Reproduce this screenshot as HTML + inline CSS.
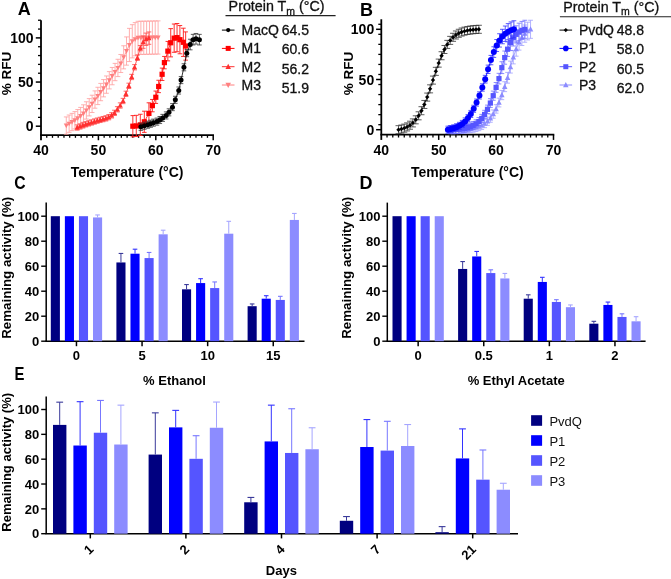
<!DOCTYPE html>
<html><head><meta charset="utf-8"><style>
html,body{margin:0;padding:0;background:#fff;}
svg{display:block;will-change:transform;}
</style></head><body>
<svg width="671" height="579" viewBox="0 0 671 579" style="font-family:'Liberation Sans',sans-serif">
<rect width="671" height="579" fill="#fff"/>
<text x="17.8" y="15.1" font-size="18" font-family="Liberation Sans, sans-serif" font-weight="bold" text-anchor="start" fill="#000" >A</text>
<line x1="41" y1="20.24" x2="41" y2="140.23" stroke="#000" stroke-width="1.8" />
<line x1="38" y1="117.37" x2="41" y2="117.37" stroke="#000" stroke-width="1.3" />
<line x1="38" y1="108.54" x2="41" y2="108.54" stroke="#000" stroke-width="1.3" />
<line x1="38" y1="99.71" x2="41" y2="99.71" stroke="#000" stroke-width="1.3" />
<line x1="38" y1="90.88" x2="41" y2="90.88" stroke="#000" stroke-width="1.3" />
<line x1="38" y1="73.22" x2="41" y2="73.22" stroke="#000" stroke-width="1.3" />
<line x1="38" y1="64.39" x2="41" y2="64.39" stroke="#000" stroke-width="1.3" />
<line x1="38" y1="55.56" x2="41" y2="55.56" stroke="#000" stroke-width="1.3" />
<line x1="38" y1="46.73" x2="41" y2="46.73" stroke="#000" stroke-width="1.3" />
<line x1="38" y1="29.07" x2="41" y2="29.07" stroke="#000" stroke-width="1.3" />
<line x1="38" y1="20.24" x2="41" y2="20.24" stroke="#000" stroke-width="1.3" />
<line x1="35.8" y1="126.2" x2="41" y2="126.2" stroke="#000" stroke-width="1.5" />
<text x="33.6" y="131.2" font-size="14" font-family="Liberation Sans, sans-serif" font-weight="bold" text-anchor="end" fill="#000" >0</text>
<line x1="35.8" y1="82.05" x2="41" y2="82.05" stroke="#000" stroke-width="1.5" />
<text x="33.6" y="87.05" font-size="14" font-family="Liberation Sans, sans-serif" font-weight="bold" text-anchor="end" fill="#000" >50</text>
<line x1="35.8" y1="37.9" x2="41" y2="37.9" stroke="#000" stroke-width="1.5" />
<text x="33.6" y="42.9" font-size="14" font-family="Liberation Sans, sans-serif" font-weight="bold" text-anchor="end" fill="#000" >100</text>
<line x1="40.1" y1="135.03" x2="214" y2="135.03" stroke="#000" stroke-width="1.8" />
<line x1="46.74" y1="135.03" x2="46.74" y2="137.83" stroke="#000" stroke-width="1.3" />
<line x1="52.48" y1="135.03" x2="52.48" y2="137.83" stroke="#000" stroke-width="1.3" />
<line x1="58.22" y1="135.03" x2="58.22" y2="137.83" stroke="#000" stroke-width="1.3" />
<line x1="63.96" y1="135.03" x2="63.96" y2="137.83" stroke="#000" stroke-width="1.3" />
<line x1="69.7" y1="135.03" x2="69.7" y2="137.83" stroke="#000" stroke-width="1.3" />
<line x1="75.44" y1="135.03" x2="75.44" y2="137.83" stroke="#000" stroke-width="1.3" />
<line x1="81.18" y1="135.03" x2="81.18" y2="137.83" stroke="#000" stroke-width="1.3" />
<line x1="86.92" y1="135.03" x2="86.92" y2="137.83" stroke="#000" stroke-width="1.3" />
<line x1="92.66" y1="135.03" x2="92.66" y2="137.83" stroke="#000" stroke-width="1.3" />
<line x1="104.14" y1="135.03" x2="104.14" y2="137.83" stroke="#000" stroke-width="1.3" />
<line x1="109.88" y1="135.03" x2="109.88" y2="137.83" stroke="#000" stroke-width="1.3" />
<line x1="115.62" y1="135.03" x2="115.62" y2="137.83" stroke="#000" stroke-width="1.3" />
<line x1="121.36" y1="135.03" x2="121.36" y2="137.83" stroke="#000" stroke-width="1.3" />
<line x1="127.1" y1="135.03" x2="127.1" y2="137.83" stroke="#000" stroke-width="1.3" />
<line x1="132.84" y1="135.03" x2="132.84" y2="137.83" stroke="#000" stroke-width="1.3" />
<line x1="138.58" y1="135.03" x2="138.58" y2="137.83" stroke="#000" stroke-width="1.3" />
<line x1="144.32" y1="135.03" x2="144.32" y2="137.83" stroke="#000" stroke-width="1.3" />
<line x1="150.06" y1="135.03" x2="150.06" y2="137.83" stroke="#000" stroke-width="1.3" />
<line x1="161.54" y1="135.03" x2="161.54" y2="137.83" stroke="#000" stroke-width="1.3" />
<line x1="167.28" y1="135.03" x2="167.28" y2="137.83" stroke="#000" stroke-width="1.3" />
<line x1="173.02" y1="135.03" x2="173.02" y2="137.83" stroke="#000" stroke-width="1.3" />
<line x1="178.76" y1="135.03" x2="178.76" y2="137.83" stroke="#000" stroke-width="1.3" />
<line x1="184.5" y1="135.03" x2="184.5" y2="137.83" stroke="#000" stroke-width="1.3" />
<line x1="190.24" y1="135.03" x2="190.24" y2="137.83" stroke="#000" stroke-width="1.3" />
<line x1="195.98" y1="135.03" x2="195.98" y2="137.83" stroke="#000" stroke-width="1.3" />
<line x1="201.72" y1="135.03" x2="201.72" y2="137.83" stroke="#000" stroke-width="1.3" />
<line x1="207.46" y1="135.03" x2="207.46" y2="137.83" stroke="#000" stroke-width="1.3" />
<line x1="98.4" y1="135.03" x2="98.4" y2="140.23" stroke="#000" stroke-width="1.5" />
<line x1="155.8" y1="135.03" x2="155.8" y2="140.23" stroke="#000" stroke-width="1.5" />
<line x1="213.2" y1="135.03" x2="213.2" y2="140.23" stroke="#000" stroke-width="1.5" />
<text x="41" y="155" font-size="14" font-family="Liberation Sans, sans-serif" font-weight="bold" text-anchor="middle" fill="#000" >40</text>
<text x="98.4" y="155" font-size="14" font-family="Liberation Sans, sans-serif" font-weight="bold" text-anchor="middle" fill="#000" >50</text>
<text x="155.8" y="155" font-size="14" font-family="Liberation Sans, sans-serif" font-weight="bold" text-anchor="middle" fill="#000" >60</text>
<text x="213.2" y="155" font-size="14" font-family="Liberation Sans, sans-serif" font-weight="bold" text-anchor="middle" fill="#000" >70</text>
<text x="127.1" y="176.9" font-size="14" font-family="Liberation Sans, sans-serif" font-weight="bold" text-anchor="middle" fill="#000" >Temperature (°C)</text>
<text transform="translate(11.3 73.5) rotate(-90)" font-size="13.5" font-family="Liberation Sans, sans-serif" font-weight="bold" text-anchor="middle">% RFU</text>
<line x1="66.26" y1="116.93" x2="66.26" y2="134.24" stroke="#ff9c9c" stroke-width="0.8" />
<line x1="63.86" y1="116.93" x2="68.66" y2="116.93" stroke="#ff9c9c" stroke-width="0.8" />
<line x1="63.86" y1="134.24" x2="68.66" y2="134.24" stroke="#ff9c9c" stroke-width="0.8" />
<line x1="69.13" y1="115.02" x2="69.13" y2="132.32" stroke="#ff9c9c" stroke-width="0.8" />
<line x1="66.73" y1="115.02" x2="71.53" y2="115.02" stroke="#ff9c9c" stroke-width="0.8" />
<line x1="66.73" y1="132.32" x2="71.53" y2="132.32" stroke="#ff9c9c" stroke-width="0.8" />
<line x1="72" y1="113.37" x2="72" y2="130.68" stroke="#ff9c9c" stroke-width="0.8" />
<line x1="69.6" y1="113.37" x2="74.4" y2="113.37" stroke="#ff9c9c" stroke-width="0.8" />
<line x1="69.6" y1="130.68" x2="74.4" y2="130.68" stroke="#ff9c9c" stroke-width="0.8" />
<line x1="74.87" y1="111.61" x2="74.87" y2="128.91" stroke="#ff9c9c" stroke-width="0.8" />
<line x1="72.47" y1="111.61" x2="77.27" y2="111.61" stroke="#ff9c9c" stroke-width="0.8" />
<line x1="72.47" y1="128.91" x2="77.27" y2="128.91" stroke="#ff9c9c" stroke-width="0.8" />
<line x1="77.74" y1="109.56" x2="77.74" y2="126.87" stroke="#ff9c9c" stroke-width="0.8" />
<line x1="75.34" y1="109.56" x2="80.14" y2="109.56" stroke="#ff9c9c" stroke-width="0.8" />
<line x1="75.34" y1="126.87" x2="80.14" y2="126.87" stroke="#ff9c9c" stroke-width="0.8" />
<line x1="80.61" y1="107.4" x2="80.61" y2="124.71" stroke="#ff9c9c" stroke-width="0.8" />
<line x1="78.21" y1="107.4" x2="83.01" y2="107.4" stroke="#ff9c9c" stroke-width="0.8" />
<line x1="78.21" y1="124.71" x2="83.01" y2="124.71" stroke="#ff9c9c" stroke-width="0.8" />
<line x1="83.48" y1="104.82" x2="83.48" y2="122.13" stroke="#ff9c9c" stroke-width="0.8" />
<line x1="81.08" y1="104.82" x2="85.88" y2="104.82" stroke="#ff9c9c" stroke-width="0.8" />
<line x1="81.08" y1="122.13" x2="85.88" y2="122.13" stroke="#ff9c9c" stroke-width="0.8" />
<line x1="86.35" y1="101.77" x2="86.35" y2="119.08" stroke="#ff9c9c" stroke-width="0.8" />
<line x1="83.95" y1="101.77" x2="88.75" y2="101.77" stroke="#ff9c9c" stroke-width="0.8" />
<line x1="83.95" y1="119.08" x2="88.75" y2="119.08" stroke="#ff9c9c" stroke-width="0.8" />
<line x1="89.22" y1="98.61" x2="89.22" y2="115.92" stroke="#ff9c9c" stroke-width="0.8" />
<line x1="86.82" y1="98.61" x2="91.62" y2="98.61" stroke="#ff9c9c" stroke-width="0.8" />
<line x1="86.82" y1="115.92" x2="91.62" y2="115.92" stroke="#ff9c9c" stroke-width="0.8" />
<line x1="92.09" y1="95.22" x2="92.09" y2="112.53" stroke="#ff9c9c" stroke-width="0.8" />
<line x1="89.69" y1="95.22" x2="94.49" y2="95.22" stroke="#ff9c9c" stroke-width="0.8" />
<line x1="89.69" y1="112.53" x2="94.49" y2="112.53" stroke="#ff9c9c" stroke-width="0.8" />
<line x1="94.96" y1="90.88" x2="94.96" y2="108.19" stroke="#ff9c9c" stroke-width="0.8" />
<line x1="92.56" y1="90.88" x2="97.36" y2="90.88" stroke="#ff9c9c" stroke-width="0.8" />
<line x1="92.56" y1="108.19" x2="97.36" y2="108.19" stroke="#ff9c9c" stroke-width="0.8" />
<line x1="97.83" y1="87.28" x2="97.83" y2="104.59" stroke="#ff9c9c" stroke-width="0.8" />
<line x1="95.43" y1="87.28" x2="100.23" y2="87.28" stroke="#ff9c9c" stroke-width="0.8" />
<line x1="95.43" y1="104.59" x2="100.23" y2="104.59" stroke="#ff9c9c" stroke-width="0.8" />
<line x1="100.7" y1="83.42" x2="100.7" y2="100.73" stroke="#ff9c9c" stroke-width="0.8" />
<line x1="98.3" y1="83.42" x2="103.1" y2="83.42" stroke="#ff9c9c" stroke-width="0.8" />
<line x1="98.3" y1="100.73" x2="103.1" y2="100.73" stroke="#ff9c9c" stroke-width="0.8" />
<line x1="103.57" y1="79.55" x2="103.57" y2="96.86" stroke="#ff9c9c" stroke-width="0.8" />
<line x1="101.17" y1="79.55" x2="105.97" y2="79.55" stroke="#ff9c9c" stroke-width="0.8" />
<line x1="101.17" y1="96.86" x2="105.97" y2="96.86" stroke="#ff9c9c" stroke-width="0.8" />
<line x1="106.44" y1="75.96" x2="106.44" y2="93.26" stroke="#ff9c9c" stroke-width="0.8" />
<line x1="104.04" y1="75.96" x2="108.84" y2="75.96" stroke="#ff9c9c" stroke-width="0.8" />
<line x1="104.04" y1="93.26" x2="108.84" y2="93.26" stroke="#ff9c9c" stroke-width="0.8" />
<line x1="109.31" y1="71.62" x2="109.31" y2="88.92" stroke="#ff9c9c" stroke-width="0.8" />
<line x1="106.91" y1="71.62" x2="111.71" y2="71.62" stroke="#ff9c9c" stroke-width="0.8" />
<line x1="106.91" y1="88.92" x2="111.71" y2="88.92" stroke="#ff9c9c" stroke-width="0.8" />
<line x1="112.18" y1="67.47" x2="112.18" y2="84.77" stroke="#ff9c9c" stroke-width="0.8" />
<line x1="109.78" y1="67.47" x2="114.58" y2="67.47" stroke="#ff9c9c" stroke-width="0.8" />
<line x1="109.78" y1="84.77" x2="114.58" y2="84.77" stroke="#ff9c9c" stroke-width="0.8" />
<line x1="115.05" y1="63.39" x2="115.05" y2="80.7" stroke="#ff9c9c" stroke-width="0.8" />
<line x1="112.65" y1="63.39" x2="117.45" y2="63.39" stroke="#ff9c9c" stroke-width="0.8" />
<line x1="112.65" y1="80.7" x2="117.45" y2="80.7" stroke="#ff9c9c" stroke-width="0.8" />
<line x1="117.92" y1="59.27" x2="117.92" y2="76.58" stroke="#ff9c9c" stroke-width="0.8" />
<line x1="115.52" y1="59.27" x2="120.32" y2="59.27" stroke="#ff9c9c" stroke-width="0.8" />
<line x1="115.52" y1="76.58" x2="120.32" y2="76.58" stroke="#ff9c9c" stroke-width="0.8" />
<line x1="120.79" y1="54.49" x2="120.79" y2="72.52" stroke="#ff9c9c" stroke-width="0.8" />
<line x1="118.39" y1="54.49" x2="123.19" y2="54.49" stroke="#ff9c9c" stroke-width="0.8" />
<line x1="118.39" y1="72.52" x2="123.19" y2="72.52" stroke="#ff9c9c" stroke-width="0.8" />
<line x1="123.66" y1="45.78" x2="123.66" y2="68.87" stroke="#ff9c9c" stroke-width="0.8" />
<line x1="121.26" y1="45.78" x2="126.06" y2="45.78" stroke="#ff9c9c" stroke-width="0.8" />
<line x1="121.26" y1="68.87" x2="126.06" y2="68.87" stroke="#ff9c9c" stroke-width="0.8" />
<line x1="126.53" y1="36.92" x2="126.53" y2="65.15" stroke="#ff9c9c" stroke-width="0.8" />
<line x1="124.13" y1="36.92" x2="128.93" y2="36.92" stroke="#ff9c9c" stroke-width="0.8" />
<line x1="124.13" y1="65.15" x2="128.93" y2="65.15" stroke="#ff9c9c" stroke-width="0.8" />
<line x1="129.4" y1="28.36" x2="129.4" y2="61.56" stroke="#ff9c9c" stroke-width="0.8" />
<line x1="127" y1="28.36" x2="131.8" y2="28.36" stroke="#ff9c9c" stroke-width="0.8" />
<line x1="127" y1="61.56" x2="131.8" y2="61.56" stroke="#ff9c9c" stroke-width="0.8" />
<line x1="132.27" y1="24.68" x2="132.27" y2="57.89" stroke="#ff9c9c" stroke-width="0.8" />
<line x1="129.87" y1="24.68" x2="134.67" y2="24.68" stroke="#ff9c9c" stroke-width="0.8" />
<line x1="129.87" y1="57.89" x2="134.67" y2="57.89" stroke="#ff9c9c" stroke-width="0.8" />
<line x1="135.14" y1="22.62" x2="135.14" y2="55.82" stroke="#ff9c9c" stroke-width="0.8" />
<line x1="132.74" y1="22.62" x2="137.54" y2="22.62" stroke="#ff9c9c" stroke-width="0.8" />
<line x1="132.74" y1="55.82" x2="137.54" y2="55.82" stroke="#ff9c9c" stroke-width="0.8" />
<line x1="138.01" y1="21.29" x2="138.01" y2="54.49" stroke="#ff9c9c" stroke-width="0.8" />
<line x1="135.61" y1="21.29" x2="140.41" y2="21.29" stroke="#ff9c9c" stroke-width="0.8" />
<line x1="135.61" y1="54.49" x2="140.41" y2="54.49" stroke="#ff9c9c" stroke-width="0.8" />
<line x1="140.88" y1="21.23" x2="140.88" y2="54.43" stroke="#ff9c9c" stroke-width="0.8" />
<line x1="138.48" y1="21.23" x2="143.28" y2="21.23" stroke="#ff9c9c" stroke-width="0.8" />
<line x1="138.48" y1="54.43" x2="143.28" y2="54.43" stroke="#ff9c9c" stroke-width="0.8" />
<line x1="143.75" y1="21.18" x2="143.75" y2="54.38" stroke="#ff9c9c" stroke-width="0.8" />
<line x1="141.35" y1="21.18" x2="146.15" y2="21.18" stroke="#ff9c9c" stroke-width="0.8" />
<line x1="141.35" y1="54.38" x2="146.15" y2="54.38" stroke="#ff9c9c" stroke-width="0.8" />
<line x1="146.62" y1="21.12" x2="146.62" y2="54.32" stroke="#ff9c9c" stroke-width="0.8" />
<line x1="144.22" y1="21.12" x2="149.02" y2="21.12" stroke="#ff9c9c" stroke-width="0.8" />
<line x1="144.22" y1="54.32" x2="149.02" y2="54.32" stroke="#ff9c9c" stroke-width="0.8" />
<line x1="149.49" y1="21.06" x2="149.49" y2="54.26" stroke="#ff9c9c" stroke-width="0.8" />
<line x1="147.09" y1="21.06" x2="151.89" y2="21.06" stroke="#ff9c9c" stroke-width="0.8" />
<line x1="147.09" y1="54.26" x2="151.89" y2="54.26" stroke="#ff9c9c" stroke-width="0.8" />
<line x1="152.36" y1="21.01" x2="152.36" y2="54.21" stroke="#ff9c9c" stroke-width="0.8" />
<line x1="149.96" y1="21.01" x2="154.76" y2="21.01" stroke="#ff9c9c" stroke-width="0.8" />
<line x1="149.96" y1="54.21" x2="154.76" y2="54.21" stroke="#ff9c9c" stroke-width="0.8" />
<line x1="155.23" y1="20.95" x2="155.23" y2="54.15" stroke="#ff9c9c" stroke-width="0.8" />
<line x1="152.83" y1="20.95" x2="157.63" y2="20.95" stroke="#ff9c9c" stroke-width="0.8" />
<line x1="152.83" y1="54.15" x2="157.63" y2="54.15" stroke="#ff9c9c" stroke-width="0.8" />
<line x1="158.1" y1="20.89" x2="158.1" y2="54.09" stroke="#ff9c9c" stroke-width="0.8" />
<line x1="155.7" y1="20.89" x2="160.5" y2="20.89" stroke="#ff9c9c" stroke-width="0.8" />
<line x1="155.7" y1="54.09" x2="160.5" y2="54.09" stroke="#ff9c9c" stroke-width="0.8" />
<path d="M66.26 125.58 L69.13 123.67 L72 122.02 L74.87 120.26 L77.74 118.21 L80.61 116.06 L83.48 113.47 L86.35 110.42 L89.22 107.27 L92.09 103.87 L94.96 99.53 L97.83 95.94 L100.7 92.07 L103.57 88.21 L106.44 84.61 L109.31 80.27 L112.18 76.12 L115.05 72.04 L117.92 67.92 L120.79 63.51 L123.66 57.33 L126.53 51.03 L129.4 44.96 L132.27 41.28 L135.14 39.22 L138.01 37.89 L140.88 37.83 L143.75 37.78 L146.62 37.72 L149.49 37.66 L152.36 37.61 L155.23 37.55 L158.1 37.49" fill="none" stroke="#ff8080" stroke-width="0.8"/>
<path d="M66.26 128.28L68.76 123.56L63.76 123.56Z" fill="#ff8080"/>
<path d="M69.13 126.37L71.63 121.64L66.63 121.64Z" fill="#ff8080"/>
<path d="M72 124.72L74.5 120L69.5 120Z" fill="#ff8080"/>
<path d="M74.87 122.96L77.37 118.23L72.37 118.23Z" fill="#ff8080"/>
<path d="M77.74 120.91L80.24 116.19L75.24 116.19Z" fill="#ff8080"/>
<path d="M80.61 118.76L83.11 114.03L78.11 114.03Z" fill="#ff8080"/>
<path d="M83.48 116.17L85.98 111.45L80.98 111.45Z" fill="#ff8080"/>
<path d="M86.35 113.12L88.85 108.4L83.85 108.4Z" fill="#ff8080"/>
<path d="M89.22 109.97L91.72 105.24L86.72 105.24Z" fill="#ff8080"/>
<path d="M92.09 106.57L94.59 101.85L89.59 101.85Z" fill="#ff8080"/>
<path d="M94.96 102.23L97.46 97.51L92.46 97.51Z" fill="#ff8080"/>
<path d="M97.83 98.64L100.33 93.91L95.33 93.91Z" fill="#ff8080"/>
<path d="M100.7 94.77L103.2 90.05L98.2 90.05Z" fill="#ff8080"/>
<path d="M103.57 90.91L106.07 86.18L101.07 86.18Z" fill="#ff8080"/>
<path d="M106.44 87.31L108.94 82.59L103.94 82.59Z" fill="#ff8080"/>
<path d="M109.31 82.97L111.81 78.24L106.81 78.24Z" fill="#ff8080"/>
<path d="M112.18 78.82L114.68 74.1L109.68 74.1Z" fill="#ff8080"/>
<path d="M115.05 74.74L117.55 70.02L112.55 70.02Z" fill="#ff8080"/>
<path d="M117.92 70.62L120.42 65.9L115.42 65.9Z" fill="#ff8080"/>
<path d="M120.79 66.21L123.29 61.48L118.29 61.48Z" fill="#ff8080"/>
<path d="M123.66 60.03L126.16 55.3L121.16 55.3Z" fill="#ff8080"/>
<path d="M126.53 53.73L129.03 49.01L124.03 49.01Z" fill="#ff8080"/>
<path d="M129.4 47.66L131.9 42.94L126.9 42.94Z" fill="#ff8080"/>
<path d="M132.27 43.98L134.77 39.26L129.77 39.26Z" fill="#ff8080"/>
<path d="M135.14 41.92L137.64 37.2L132.64 37.2Z" fill="#ff8080"/>
<path d="M138.01 40.59L140.51 35.86L135.51 35.86Z" fill="#ff8080"/>
<path d="M140.88 40.53L143.38 35.81L138.38 35.81Z" fill="#ff8080"/>
<path d="M143.75 40.48L146.25 35.75L141.25 35.75Z" fill="#ff8080"/>
<path d="M146.62 40.42L149.12 35.69L144.12 35.69Z" fill="#ff8080"/>
<path d="M149.49 40.36L151.99 35.64L146.99 35.64Z" fill="#ff8080"/>
<path d="M152.36 40.31L154.86 35.58L149.86 35.58Z" fill="#ff8080"/>
<path d="M155.23 40.25L157.73 35.52L152.73 35.52Z" fill="#ff8080"/>
<path d="M158.1 40.19L160.6 35.47L155.6 35.47Z" fill="#ff8080"/>
<line x1="77.16" y1="124.88" x2="77.16" y2="130.17" stroke="#ff4848" stroke-width="0.8" />
<line x1="74.76" y1="124.88" x2="79.56" y2="124.88" stroke="#ff4848" stroke-width="0.8" />
<line x1="74.76" y1="130.17" x2="79.56" y2="130.17" stroke="#ff4848" stroke-width="0.8" />
<line x1="80.03" y1="123.8" x2="80.03" y2="129.1" stroke="#ff4848" stroke-width="0.8" />
<line x1="77.63" y1="123.8" x2="82.43" y2="123.8" stroke="#ff4848" stroke-width="0.8" />
<line x1="77.63" y1="129.1" x2="82.43" y2="129.1" stroke="#ff4848" stroke-width="0.8" />
<line x1="82.9" y1="122.72" x2="82.9" y2="128.02" stroke="#ff4848" stroke-width="0.8" />
<line x1="80.5" y1="122.72" x2="85.3" y2="122.72" stroke="#ff4848" stroke-width="0.8" />
<line x1="80.5" y1="128.02" x2="85.3" y2="128.02" stroke="#ff4848" stroke-width="0.8" />
<line x1="85.77" y1="121.65" x2="85.77" y2="126.95" stroke="#ff4848" stroke-width="0.8" />
<line x1="83.37" y1="121.65" x2="88.17" y2="121.65" stroke="#ff4848" stroke-width="0.8" />
<line x1="83.37" y1="126.95" x2="88.17" y2="126.95" stroke="#ff4848" stroke-width="0.8" />
<line x1="88.64" y1="120.71" x2="88.64" y2="126" stroke="#ff4848" stroke-width="0.8" />
<line x1="86.24" y1="120.71" x2="91.04" y2="120.71" stroke="#ff4848" stroke-width="0.8" />
<line x1="86.24" y1="126" x2="91.04" y2="126" stroke="#ff4848" stroke-width="0.8" />
<line x1="91.51" y1="119.8" x2="91.51" y2="125.1" stroke="#ff4848" stroke-width="0.8" />
<line x1="89.11" y1="119.8" x2="93.91" y2="119.8" stroke="#ff4848" stroke-width="0.8" />
<line x1="89.11" y1="125.1" x2="93.91" y2="125.1" stroke="#ff4848" stroke-width="0.8" />
<line x1="94.38" y1="118.89" x2="94.38" y2="124.19" stroke="#ff4848" stroke-width="0.8" />
<line x1="91.98" y1="118.89" x2="96.78" y2="118.89" stroke="#ff4848" stroke-width="0.8" />
<line x1="91.98" y1="124.19" x2="96.78" y2="124.19" stroke="#ff4848" stroke-width="0.8" />
<line x1="97.25" y1="118.01" x2="97.25" y2="123.31" stroke="#ff4848" stroke-width="0.8" />
<line x1="94.85" y1="118.01" x2="99.65" y2="118.01" stroke="#ff4848" stroke-width="0.8" />
<line x1="94.85" y1="123.31" x2="99.65" y2="123.31" stroke="#ff4848" stroke-width="0.8" />
<line x1="100.12" y1="117.24" x2="100.12" y2="122.54" stroke="#ff4848" stroke-width="0.8" />
<line x1="97.72" y1="117.24" x2="102.52" y2="117.24" stroke="#ff4848" stroke-width="0.8" />
<line x1="97.72" y1="122.54" x2="102.52" y2="122.54" stroke="#ff4848" stroke-width="0.8" />
<line x1="102.99" y1="116.48" x2="102.99" y2="121.78" stroke="#ff4848" stroke-width="0.8" />
<line x1="100.59" y1="116.48" x2="105.39" y2="116.48" stroke="#ff4848" stroke-width="0.8" />
<line x1="100.59" y1="121.78" x2="105.39" y2="121.78" stroke="#ff4848" stroke-width="0.8" />
<line x1="105.86" y1="115.71" x2="105.86" y2="121.01" stroke="#ff4848" stroke-width="0.8" />
<line x1="103.46" y1="115.71" x2="108.26" y2="115.71" stroke="#ff4848" stroke-width="0.8" />
<line x1="103.46" y1="121.01" x2="108.26" y2="121.01" stroke="#ff4848" stroke-width="0.8" />
<line x1="108.73" y1="114.52" x2="108.73" y2="119.82" stroke="#ff4848" stroke-width="0.8" />
<line x1="106.33" y1="114.52" x2="111.13" y2="114.52" stroke="#ff4848" stroke-width="0.8" />
<line x1="106.33" y1="119.82" x2="111.13" y2="119.82" stroke="#ff4848" stroke-width="0.8" />
<line x1="111.6" y1="112.69" x2="111.6" y2="117.99" stroke="#ff4848" stroke-width="0.8" />
<line x1="109.2" y1="112.69" x2="114" y2="112.69" stroke="#ff4848" stroke-width="0.8" />
<line x1="109.2" y1="117.99" x2="114" y2="117.99" stroke="#ff4848" stroke-width="0.8" />
<line x1="114.47" y1="110.23" x2="114.47" y2="115.53" stroke="#ff4848" stroke-width="0.8" />
<line x1="112.07" y1="110.23" x2="116.87" y2="110.23" stroke="#ff4848" stroke-width="0.8" />
<line x1="112.07" y1="115.53" x2="116.87" y2="115.53" stroke="#ff4848" stroke-width="0.8" />
<line x1="117.34" y1="106.65" x2="117.34" y2="111.95" stroke="#ff4848" stroke-width="0.8" />
<line x1="114.94" y1="106.65" x2="119.74" y2="106.65" stroke="#ff4848" stroke-width="0.8" />
<line x1="114.94" y1="111.95" x2="119.74" y2="111.95" stroke="#ff4848" stroke-width="0.8" />
<line x1="120.21" y1="102.85" x2="120.21" y2="108.15" stroke="#ff4848" stroke-width="0.8" />
<line x1="117.81" y1="102.85" x2="122.61" y2="102.85" stroke="#ff4848" stroke-width="0.8" />
<line x1="117.81" y1="108.15" x2="122.61" y2="108.15" stroke="#ff4848" stroke-width="0.8" />
<line x1="123.08" y1="98.35" x2="123.08" y2="103.65" stroke="#ff4848" stroke-width="0.8" />
<line x1="120.68" y1="98.35" x2="125.48" y2="98.35" stroke="#ff4848" stroke-width="0.8" />
<line x1="120.68" y1="103.65" x2="125.48" y2="103.65" stroke="#ff4848" stroke-width="0.8" />
<line x1="125.95" y1="91.17" x2="125.95" y2="96.46" stroke="#ff4848" stroke-width="0.8" />
<line x1="123.55" y1="91.17" x2="128.35" y2="91.17" stroke="#ff4848" stroke-width="0.8" />
<line x1="123.55" y1="96.46" x2="128.35" y2="96.46" stroke="#ff4848" stroke-width="0.8" />
<line x1="128.82" y1="83.18" x2="128.82" y2="88.48" stroke="#ff4848" stroke-width="0.8" />
<line x1="126.42" y1="83.18" x2="131.22" y2="83.18" stroke="#ff4848" stroke-width="0.8" />
<line x1="126.42" y1="88.48" x2="131.22" y2="88.48" stroke="#ff4848" stroke-width="0.8" />
<line x1="131.69" y1="74.33" x2="131.69" y2="79.63" stroke="#ff4848" stroke-width="0.8" />
<line x1="129.29" y1="74.33" x2="134.09" y2="74.33" stroke="#ff4848" stroke-width="0.8" />
<line x1="129.29" y1="79.63" x2="134.09" y2="79.63" stroke="#ff4848" stroke-width="0.8" />
<line x1="134.56" y1="64.6" x2="134.56" y2="69.9" stroke="#ff4848" stroke-width="0.8" />
<line x1="132.16" y1="64.6" x2="136.96" y2="64.6" stroke="#ff4848" stroke-width="0.8" />
<line x1="132.16" y1="69.9" x2="136.96" y2="69.9" stroke="#ff4848" stroke-width="0.8" />
<line x1="137.43" y1="55.14" x2="137.43" y2="60.43" stroke="#ff4848" stroke-width="0.8" />
<line x1="135.03" y1="55.14" x2="139.83" y2="55.14" stroke="#ff4848" stroke-width="0.8" />
<line x1="135.03" y1="60.43" x2="139.83" y2="60.43" stroke="#ff4848" stroke-width="0.8" />
<line x1="140.3" y1="45.49" x2="140.3" y2="50.79" stroke="#ff4848" stroke-width="0.8" />
<line x1="137.9" y1="45.49" x2="142.7" y2="45.49" stroke="#ff4848" stroke-width="0.8" />
<line x1="137.9" y1="50.79" x2="142.7" y2="50.79" stroke="#ff4848" stroke-width="0.8" />
<line x1="143.17" y1="35.96" x2="143.17" y2="48.32" stroke="#ff4848" stroke-width="0.8" />
<line x1="140.77" y1="35.96" x2="145.57" y2="35.96" stroke="#ff4848" stroke-width="0.8" />
<line x1="140.77" y1="48.32" x2="145.57" y2="48.32" stroke="#ff4848" stroke-width="0.8" />
<line x1="146.04" y1="33.08" x2="146.04" y2="45.44" stroke="#ff4848" stroke-width="0.8" />
<line x1="143.64" y1="33.08" x2="148.44" y2="33.08" stroke="#ff4848" stroke-width="0.8" />
<line x1="143.64" y1="45.44" x2="148.44" y2="45.44" stroke="#ff4848" stroke-width="0.8" />
<line x1="148.91" y1="31.94" x2="148.91" y2="44.3" stroke="#ff4848" stroke-width="0.8" />
<line x1="146.51" y1="31.94" x2="151.31" y2="31.94" stroke="#ff4848" stroke-width="0.8" />
<line x1="146.51" y1="44.3" x2="151.31" y2="44.3" stroke="#ff4848" stroke-width="0.8" />
<path d="M77.16 127.52 L80.03 126.45 L82.9 125.37 L85.77 124.3 L88.64 123.35 L91.51 122.45 L94.38 121.54 L97.25 120.66 L100.12 119.89 L102.99 119.13 L105.86 118.36 L108.73 117.17 L111.6 115.34 L114.47 112.88 L117.34 109.3 L120.21 105.5 L123.08 101 L125.95 93.82 L128.82 85.83 L131.69 76.98 L134.56 67.25 L137.43 57.79 L140.3 48.14 L143.17 42.14 L146.04 39.26 L148.91 38.12" fill="none" stroke="#ff3030" stroke-width="0.8"/>
<path d="M77.16 124.72L79.76 129.63L74.56 129.63Z" fill="#ff3030"/>
<path d="M80.03 123.64L82.63 128.55L77.43 128.55Z" fill="#ff3030"/>
<path d="M82.9 122.56L85.5 127.48L80.3 127.48Z" fill="#ff3030"/>
<path d="M85.77 121.49L88.37 126.4L83.17 126.4Z" fill="#ff3030"/>
<path d="M88.64 120.55L91.24 125.46L86.04 125.46Z" fill="#ff3030"/>
<path d="M91.51 119.64L94.11 124.55L88.91 124.55Z" fill="#ff3030"/>
<path d="M94.38 118.73L96.98 123.65L91.78 123.65Z" fill="#ff3030"/>
<path d="M97.25 117.85L99.85 122.77L94.65 122.77Z" fill="#ff3030"/>
<path d="M100.12 117.09L102.72 122L97.52 122Z" fill="#ff3030"/>
<path d="M102.99 116.32L105.59 121.23L100.39 121.23Z" fill="#ff3030"/>
<path d="M105.86 115.55L108.46 120.47L103.26 120.47Z" fill="#ff3030"/>
<path d="M108.73 114.36L111.33 119.27L106.13 119.27Z" fill="#ff3030"/>
<path d="M111.6 112.53L114.2 117.45L109 117.45Z" fill="#ff3030"/>
<path d="M114.47 110.07L117.07 114.99L111.87 114.99Z" fill="#ff3030"/>
<path d="M117.34 106.49L119.94 111.41L114.74 111.41Z" fill="#ff3030"/>
<path d="M120.21 102.69L122.81 107.61L117.61 107.61Z" fill="#ff3030"/>
<path d="M123.08 98.19L125.68 103.11L120.48 103.11Z" fill="#ff3030"/>
<path d="M125.95 91.01L128.55 95.92L123.35 95.92Z" fill="#ff3030"/>
<path d="M128.82 83.02L131.42 87.94L126.22 87.94Z" fill="#ff3030"/>
<path d="M131.69 74.17L134.29 79.09L129.09 79.09Z" fill="#ff3030"/>
<path d="M134.56 64.44L137.16 69.36L131.96 69.36Z" fill="#ff3030"/>
<path d="M137.43 54.98L140.03 59.89L134.83 59.89Z" fill="#ff3030"/>
<path d="M140.3 45.33L142.9 50.25L137.7 50.25Z" fill="#ff3030"/>
<path d="M143.17 39.33L145.77 44.24L140.57 44.24Z" fill="#ff3030"/>
<path d="M146.04 36.45L148.64 41.37L143.44 41.37Z" fill="#ff3030"/>
<path d="M148.91 35.31L151.51 40.23L146.31 40.23Z" fill="#ff3030"/>
<line x1="132.84" y1="115.6" x2="132.84" y2="136.8" stroke="#ff1a1a" stroke-width="0.9" />
<line x1="130.54" y1="115.6" x2="135.14" y2="115.6" stroke="#ff1a1a" stroke-width="0.9" />
<line x1="130.54" y1="136.8" x2="135.14" y2="136.8" stroke="#ff1a1a" stroke-width="0.9" />
<line x1="136.28" y1="115.34" x2="136.28" y2="136.53" stroke="#ff1a1a" stroke-width="0.9" />
<line x1="133.98" y1="115.34" x2="138.58" y2="115.34" stroke="#ff1a1a" stroke-width="0.9" />
<line x1="133.98" y1="136.53" x2="138.58" y2="136.53" stroke="#ff1a1a" stroke-width="0.9" />
<line x1="140.3" y1="114.28" x2="140.3" y2="135.47" stroke="#ff1a1a" stroke-width="0.9" />
<line x1="138" y1="114.28" x2="142.6" y2="114.28" stroke="#ff1a1a" stroke-width="0.9" />
<line x1="138" y1="135.47" x2="142.6" y2="135.47" stroke="#ff1a1a" stroke-width="0.9" />
<line x1="144.32" y1="111.19" x2="144.32" y2="132.38" stroke="#ff1a1a" stroke-width="0.9" />
<line x1="142.02" y1="111.19" x2="146.62" y2="111.19" stroke="#ff1a1a" stroke-width="0.9" />
<line x1="142.02" y1="132.38" x2="146.62" y2="132.38" stroke="#ff1a1a" stroke-width="0.9" />
<line x1="148.91" y1="102.8" x2="148.91" y2="123.99" stroke="#ff1a1a" stroke-width="0.9" />
<line x1="146.61" y1="102.8" x2="151.21" y2="102.8" stroke="#ff1a1a" stroke-width="0.9" />
<line x1="146.61" y1="123.99" x2="151.21" y2="123.99" stroke="#ff1a1a" stroke-width="0.9" />
<line x1="152.36" y1="99.45" x2="152.36" y2="111.81" stroke="#ff1a1a" stroke-width="0.9" />
<line x1="150.06" y1="99.45" x2="154.66" y2="99.45" stroke="#ff1a1a" stroke-width="0.9" />
<line x1="150.06" y1="111.81" x2="154.66" y2="111.81" stroke="#ff1a1a" stroke-width="0.9" />
<line x1="155.8" y1="91.06" x2="155.8" y2="103.42" stroke="#ff1a1a" stroke-width="0.9" />
<line x1="153.5" y1="91.06" x2="158.1" y2="91.06" stroke="#ff1a1a" stroke-width="0.9" />
<line x1="153.5" y1="103.42" x2="158.1" y2="103.42" stroke="#ff1a1a" stroke-width="0.9" />
<line x1="158.67" y1="80.28" x2="158.67" y2="92.65" stroke="#ff1a1a" stroke-width="0.9" />
<line x1="156.37" y1="80.28" x2="160.97" y2="80.28" stroke="#ff1a1a" stroke-width="0.9" />
<line x1="156.37" y1="92.65" x2="160.97" y2="92.65" stroke="#ff1a1a" stroke-width="0.9" />
<line x1="162.11" y1="68.1" x2="162.11" y2="80.46" stroke="#ff1a1a" stroke-width="0.9" />
<line x1="159.81" y1="68.1" x2="164.41" y2="68.1" stroke="#ff1a1a" stroke-width="0.9" />
<line x1="159.81" y1="80.46" x2="164.41" y2="80.46" stroke="#ff1a1a" stroke-width="0.9" />
<line x1="164.41" y1="56.44" x2="164.41" y2="68.81" stroke="#ff1a1a" stroke-width="0.9" />
<line x1="162.11" y1="56.44" x2="166.71" y2="56.44" stroke="#ff1a1a" stroke-width="0.9" />
<line x1="162.11" y1="68.81" x2="166.71" y2="68.81" stroke="#ff1a1a" stroke-width="0.9" />
<line x1="167.85" y1="41.43" x2="167.85" y2="60.86" stroke="#ff1a1a" stroke-width="0.9" />
<line x1="165.55" y1="41.43" x2="170.15" y2="41.43" stroke="#ff1a1a" stroke-width="0.9" />
<line x1="165.55" y1="60.86" x2="170.15" y2="60.86" stroke="#ff1a1a" stroke-width="0.9" />
<line x1="170.72" y1="28.63" x2="170.72" y2="56.88" stroke="#ff1a1a" stroke-width="0.9" />
<line x1="168.42" y1="28.63" x2="173.02" y2="28.63" stroke="#ff1a1a" stroke-width="0.9" />
<line x1="168.42" y1="56.88" x2="173.02" y2="56.88" stroke="#ff1a1a" stroke-width="0.9" />
<line x1="174.17" y1="24.04" x2="174.17" y2="52.29" stroke="#ff1a1a" stroke-width="0.9" />
<line x1="171.87" y1="24.04" x2="176.47" y2="24.04" stroke="#ff1a1a" stroke-width="0.9" />
<line x1="171.87" y1="52.29" x2="176.47" y2="52.29" stroke="#ff1a1a" stroke-width="0.9" />
<line x1="177.04" y1="23.51" x2="177.04" y2="51.76" stroke="#ff1a1a" stroke-width="0.9" />
<line x1="174.74" y1="23.51" x2="179.34" y2="23.51" stroke="#ff1a1a" stroke-width="0.9" />
<line x1="174.74" y1="51.76" x2="179.34" y2="51.76" stroke="#ff1a1a" stroke-width="0.9" />
<line x1="179.91" y1="25.54" x2="179.91" y2="53.79" stroke="#ff1a1a" stroke-width="0.9" />
<line x1="177.61" y1="25.54" x2="182.21" y2="25.54" stroke="#ff1a1a" stroke-width="0.9" />
<line x1="177.61" y1="53.79" x2="182.21" y2="53.79" stroke="#ff1a1a" stroke-width="0.9" />
<line x1="183.35" y1="28.19" x2="183.35" y2="56.44" stroke="#ff1a1a" stroke-width="0.9" />
<line x1="181.05" y1="28.19" x2="185.65" y2="28.19" stroke="#ff1a1a" stroke-width="0.9" />
<line x1="181.05" y1="56.44" x2="185.65" y2="56.44" stroke="#ff1a1a" stroke-width="0.9" />
<line x1="185.65" y1="31.9" x2="185.65" y2="60.15" stroke="#ff1a1a" stroke-width="0.9" />
<line x1="183.35" y1="31.9" x2="187.95" y2="31.9" stroke="#ff1a1a" stroke-width="0.9" />
<line x1="183.35" y1="60.15" x2="187.95" y2="60.15" stroke="#ff1a1a" stroke-width="0.9" />
<path d="M132.84 126.2 L136.28 125.94 L140.3 124.88 L144.32 121.78 L148.91 113.4 L152.36 105.63 L155.8 97.24 L158.67 86.47 L162.11 74.28 L164.41 62.62 L167.85 51.14 L170.72 42.76 L174.17 38.16 L177.04 37.64 L179.91 39.67 L183.35 42.31 L185.65 46.02" fill="none" stroke="#ff0000" stroke-width="0.8"/>
<rect x="130.24" y="123.6" width="5.2" height="5.2" fill="#ff0000"/>
<rect x="133.68" y="123.34" width="5.2" height="5.2" fill="#ff0000"/>
<rect x="137.7" y="122.28" width="5.2" height="5.2" fill="#ff0000"/>
<rect x="141.72" y="119.19" width="5.2" height="5.2" fill="#ff0000"/>
<rect x="146.31" y="110.8" width="5.2" height="5.2" fill="#ff0000"/>
<rect x="149.76" y="103.03" width="5.2" height="5.2" fill="#ff0000"/>
<rect x="153.2" y="94.64" width="5.2" height="5.2" fill="#ff0000"/>
<rect x="156.07" y="83.87" width="5.2" height="5.2" fill="#ff0000"/>
<rect x="159.51" y="71.68" width="5.2" height="5.2" fill="#ff0000"/>
<rect x="161.81" y="60.02" width="5.2" height="5.2" fill="#ff0000"/>
<rect x="165.25" y="48.54" width="5.2" height="5.2" fill="#ff0000"/>
<rect x="168.12" y="40.16" width="5.2" height="5.2" fill="#ff0000"/>
<rect x="171.57" y="35.56" width="5.2" height="5.2" fill="#ff0000"/>
<rect x="174.44" y="35.04" width="5.2" height="5.2" fill="#ff0000"/>
<rect x="177.31" y="37.07" width="5.2" height="5.2" fill="#ff0000"/>
<rect x="180.75" y="39.71" width="5.2" height="5.2" fill="#ff0000"/>
<rect x="183.05" y="43.42" width="5.2" height="5.2" fill="#ff0000"/>
<line x1="140.88" y1="123.29" x2="140.88" y2="130.35" stroke="#333" stroke-width="0.8" />
<line x1="138.58" y1="123.29" x2="143.18" y2="123.29" stroke="#333" stroke-width="0.8" />
<line x1="138.58" y1="130.35" x2="143.18" y2="130.35" stroke="#333" stroke-width="0.8" />
<line x1="144.32" y1="122.23" x2="144.32" y2="129.29" stroke="#333" stroke-width="0.8" />
<line x1="142.02" y1="122.23" x2="146.62" y2="122.23" stroke="#333" stroke-width="0.8" />
<line x1="142.02" y1="129.29" x2="146.62" y2="129.29" stroke="#333" stroke-width="0.8" />
<line x1="147.76" y1="121.17" x2="147.76" y2="128.23" stroke="#333" stroke-width="0.8" />
<line x1="145.46" y1="121.17" x2="150.06" y2="121.17" stroke="#333" stroke-width="0.8" />
<line x1="145.46" y1="128.23" x2="150.06" y2="128.23" stroke="#333" stroke-width="0.8" />
<line x1="150.63" y1="120.2" x2="150.63" y2="127.26" stroke="#333" stroke-width="0.8" />
<line x1="148.33" y1="120.2" x2="152.93" y2="120.2" stroke="#333" stroke-width="0.8" />
<line x1="148.33" y1="127.26" x2="152.93" y2="127.26" stroke="#333" stroke-width="0.8" />
<line x1="153.5" y1="119.14" x2="153.5" y2="126.2" stroke="#333" stroke-width="0.8" />
<line x1="151.2" y1="119.14" x2="155.8" y2="119.14" stroke="#333" stroke-width="0.8" />
<line x1="151.2" y1="126.2" x2="155.8" y2="126.2" stroke="#333" stroke-width="0.8" />
<line x1="156.95" y1="118.08" x2="156.95" y2="125.14" stroke="#333" stroke-width="0.8" />
<line x1="154.65" y1="118.08" x2="159.25" y2="118.08" stroke="#333" stroke-width="0.8" />
<line x1="154.65" y1="125.14" x2="159.25" y2="125.14" stroke="#333" stroke-width="0.8" />
<line x1="159.82" y1="116.49" x2="159.82" y2="123.55" stroke="#333" stroke-width="0.8" />
<line x1="157.52" y1="116.49" x2="162.12" y2="116.49" stroke="#333" stroke-width="0.8" />
<line x1="157.52" y1="123.55" x2="162.12" y2="123.55" stroke="#333" stroke-width="0.8" />
<line x1="162.69" y1="114.37" x2="162.69" y2="121.43" stroke="#333" stroke-width="0.8" />
<line x1="160.39" y1="114.37" x2="164.99" y2="114.37" stroke="#333" stroke-width="0.8" />
<line x1="160.39" y1="121.43" x2="164.99" y2="121.43" stroke="#333" stroke-width="0.8" />
<line x1="166.13" y1="111.9" x2="166.13" y2="118.96" stroke="#333" stroke-width="0.8" />
<line x1="163.83" y1="111.9" x2="168.43" y2="111.9" stroke="#333" stroke-width="0.8" />
<line x1="163.83" y1="118.96" x2="168.43" y2="118.96" stroke="#333" stroke-width="0.8" />
<line x1="169" y1="108.8" x2="169" y2="115.87" stroke="#333" stroke-width="0.8" />
<line x1="166.7" y1="108.8" x2="171.3" y2="108.8" stroke="#333" stroke-width="0.8" />
<line x1="166.7" y1="115.87" x2="171.3" y2="115.87" stroke="#333" stroke-width="0.8" />
<line x1="172.45" y1="103.6" x2="172.45" y2="110.66" stroke="#333" stroke-width="0.8" />
<line x1="170.15" y1="103.6" x2="174.75" y2="103.6" stroke="#333" stroke-width="0.8" />
<line x1="170.15" y1="110.66" x2="174.75" y2="110.66" stroke="#333" stroke-width="0.8" />
<line x1="175.32" y1="96.27" x2="175.32" y2="103.33" stroke="#333" stroke-width="0.8" />
<line x1="173.02" y1="96.27" x2="177.62" y2="96.27" stroke="#333" stroke-width="0.8" />
<line x1="173.02" y1="103.33" x2="177.62" y2="103.33" stroke="#333" stroke-width="0.8" />
<line x1="178.76" y1="86.99" x2="178.76" y2="94.06" stroke="#333" stroke-width="0.8" />
<line x1="176.46" y1="86.99" x2="181.06" y2="86.99" stroke="#333" stroke-width="0.8" />
<line x1="176.46" y1="94.06" x2="181.06" y2="94.06" stroke="#333" stroke-width="0.8" />
<line x1="181.06" y1="76.58" x2="181.06" y2="83.64" stroke="#333" stroke-width="0.8" />
<line x1="178.76" y1="76.58" x2="183.36" y2="76.58" stroke="#333" stroke-width="0.8" />
<line x1="178.76" y1="83.64" x2="183.36" y2="83.64" stroke="#333" stroke-width="0.8" />
<line x1="183.93" y1="63.77" x2="183.93" y2="70.84" stroke="#333" stroke-width="0.8" />
<line x1="181.63" y1="63.77" x2="186.23" y2="63.77" stroke="#333" stroke-width="0.8" />
<line x1="181.63" y1="70.84" x2="186.23" y2="70.84" stroke="#333" stroke-width="0.8" />
<line x1="186.8" y1="49.64" x2="186.8" y2="56.71" stroke="#333" stroke-width="0.8" />
<line x1="184.5" y1="49.64" x2="189.1" y2="49.64" stroke="#333" stroke-width="0.8" />
<line x1="184.5" y1="56.71" x2="189.1" y2="56.71" stroke="#333" stroke-width="0.8" />
<line x1="190.24" y1="39.22" x2="190.24" y2="49.82" stroke="#333" stroke-width="0.8" />
<line x1="187.94" y1="39.22" x2="192.54" y2="39.22" stroke="#333" stroke-width="0.8" />
<line x1="187.94" y1="49.82" x2="192.54" y2="49.82" stroke="#333" stroke-width="0.8" />
<line x1="193.11" y1="34.37" x2="193.11" y2="44.96" stroke="#333" stroke-width="0.8" />
<line x1="190.81" y1="34.37" x2="195.41" y2="34.37" stroke="#333" stroke-width="0.8" />
<line x1="190.81" y1="44.96" x2="195.41" y2="44.96" stroke="#333" stroke-width="0.8" />
<line x1="195.98" y1="33.48" x2="195.98" y2="44.08" stroke="#333" stroke-width="0.8" />
<line x1="193.68" y1="33.48" x2="198.28" y2="33.48" stroke="#333" stroke-width="0.8" />
<line x1="193.68" y1="44.08" x2="198.28" y2="44.08" stroke="#333" stroke-width="0.8" />
<line x1="199.42" y1="34.37" x2="199.42" y2="44.96" stroke="#333" stroke-width="0.8" />
<line x1="197.12" y1="34.37" x2="201.72" y2="34.37" stroke="#333" stroke-width="0.8" />
<line x1="197.12" y1="44.96" x2="201.72" y2="44.96" stroke="#333" stroke-width="0.8" />
<path d="M140.88 126.82 L144.32 125.76 L147.76 124.7 L150.63 123.73 L153.5 122.67 L156.95 121.61 L159.82 120.02 L162.69 117.9 L166.13 115.43 L169 112.34 L172.45 107.13 L175.32 99.8 L178.76 90.53 L181.06 80.11 L183.93 67.3 L186.8 53.18 L190.24 44.52 L193.11 39.67 L195.98 38.78 L199.42 39.67" fill="none" stroke="#000" stroke-width="0.8"/>
<circle cx="140.88" cy="126.82" r="2.5" fill="#000"/>
<circle cx="144.32" cy="125.76" r="2.5" fill="#000"/>
<circle cx="147.76" cy="124.7" r="2.5" fill="#000"/>
<circle cx="150.63" cy="123.73" r="2.5" fill="#000"/>
<circle cx="153.5" cy="122.67" r="2.5" fill="#000"/>
<circle cx="156.95" cy="121.61" r="2.5" fill="#000"/>
<circle cx="159.82" cy="120.02" r="2.5" fill="#000"/>
<circle cx="162.69" cy="117.9" r="2.5" fill="#000"/>
<circle cx="166.13" cy="115.43" r="2.5" fill="#000"/>
<circle cx="169" cy="112.34" r="2.5" fill="#000"/>
<circle cx="172.45" cy="107.13" r="2.5" fill="#000"/>
<circle cx="175.32" cy="99.8" r="2.5" fill="#000"/>
<circle cx="178.76" cy="90.53" r="2.5" fill="#000"/>
<circle cx="181.06" cy="80.11" r="2.5" fill="#000"/>
<circle cx="183.93" cy="67.3" r="2.5" fill="#000"/>
<circle cx="186.8" cy="53.18" r="2.5" fill="#000"/>
<circle cx="190.24" cy="44.52" r="2.5" fill="#000"/>
<circle cx="193.11" cy="39.67" r="2.5" fill="#000"/>
<circle cx="195.98" cy="38.78" r="2.5" fill="#000"/>
<circle cx="199.42" cy="39.67" r="2.5" fill="#000"/>
<text x="228.6" y="11" font-size="14.3" font-family="Liberation Sans, sans-serif" fill="#111" stroke="#111" stroke-width="0.3">Protein T<tspan font-size="10.5" dy="3.8">m</tspan><tspan dy="-3.8"> (°C)</tspan></text>
<line x1="225.5" y1="15.6" x2="335.6" y2="15.6" stroke="#222" stroke-width="1.1" />
<line x1="221.9" y1="30.1" x2="234.5" y2="30.1" stroke="#000" stroke-width="1" />
<circle cx="228.2" cy="30.1" r="2.1" fill="#000"/>
<text x="241.6" y="35.1" font-size="14" font-family="Liberation Sans, sans-serif" text-anchor="start" fill="#111" stroke="#111" stroke-width="0.3">MacQ</text>
<text x="281.7" y="35.1" font-size="14" font-family="Liberation Sans, sans-serif" text-anchor="start" fill="#111" stroke="#111" stroke-width="0.3">64.5</text>
<line x1="221.9" y1="48.4" x2="234.5" y2="48.4" stroke="#ff0000" stroke-width="1" />
<rect x="225.7" y="45.9" width="5" height="5" fill="#ff0000"/>
<text x="241.6" y="53.4" font-size="14" font-family="Liberation Sans, sans-serif" text-anchor="start" fill="#111" stroke="#111" stroke-width="0.3">M1</text>
<text x="281.7" y="54.3" font-size="14" font-family="Liberation Sans, sans-serif" text-anchor="start" fill="#111" stroke="#111" stroke-width="0.3">60.6</text>
<line x1="221.9" y1="66.7" x2="234.5" y2="66.7" stroke="#ff3030" stroke-width="1" />
<path d="M228.2 63.73L230.95 68.93L225.45 68.93Z" fill="#ff3030"/>
<text x="241.6" y="71.7" font-size="14" font-family="Liberation Sans, sans-serif" text-anchor="start" fill="#111" stroke="#111" stroke-width="0.3">M2</text>
<text x="281.7" y="73.5" font-size="14" font-family="Liberation Sans, sans-serif" text-anchor="start" fill="#111" stroke="#111" stroke-width="0.3">56.2</text>
<line x1="221.9" y1="85" x2="234.5" y2="85" stroke="#ff8080" stroke-width="1" />
<path d="M228.2 87.97L230.95 82.77L225.45 82.77Z" fill="#ff8080"/>
<text x="241.6" y="90" font-size="14" font-family="Liberation Sans, sans-serif" text-anchor="start" fill="#111" stroke="#111" stroke-width="0.3">M3</text>
<text x="281.7" y="92.7" font-size="14" font-family="Liberation Sans, sans-serif" text-anchor="start" fill="#111" stroke="#111" stroke-width="0.3">51.9</text>
<text x="360" y="15.5" font-size="18" font-family="Liberation Sans, sans-serif" font-weight="bold" text-anchor="start" fill="#000" >B</text>
<line x1="381.3" y1="19.26" x2="381.3" y2="139.92" stroke="#000" stroke-width="1.8" />
<line x1="378.3" y1="124.68" x2="381.3" y2="124.68" stroke="#000" stroke-width="1.3" />
<line x1="378.3" y1="114.64" x2="381.3" y2="114.64" stroke="#000" stroke-width="1.3" />
<line x1="378.3" y1="104.6" x2="381.3" y2="104.6" stroke="#000" stroke-width="1.3" />
<line x1="378.3" y1="94.56" x2="381.3" y2="94.56" stroke="#000" stroke-width="1.3" />
<line x1="378.3" y1="84.52" x2="381.3" y2="84.52" stroke="#000" stroke-width="1.3" />
<line x1="378.3" y1="74.48" x2="381.3" y2="74.48" stroke="#000" stroke-width="1.3" />
<line x1="378.3" y1="64.44" x2="381.3" y2="64.44" stroke="#000" stroke-width="1.3" />
<line x1="378.3" y1="54.4" x2="381.3" y2="54.4" stroke="#000" stroke-width="1.3" />
<line x1="378.3" y1="44.36" x2="381.3" y2="44.36" stroke="#000" stroke-width="1.3" />
<line x1="378.3" y1="34.32" x2="381.3" y2="34.32" stroke="#000" stroke-width="1.3" />
<line x1="378.3" y1="24.28" x2="381.3" y2="24.28" stroke="#000" stroke-width="1.3" />
<line x1="376.1" y1="129.7" x2="381.3" y2="129.7" stroke="#000" stroke-width="1.5" />
<text x="374.2" y="134.7" font-size="14" font-family="Liberation Sans, sans-serif" font-weight="bold" text-anchor="end" fill="#000" >0</text>
<line x1="376.1" y1="79.5" x2="381.3" y2="79.5" stroke="#000" stroke-width="1.5" />
<text x="374.2" y="84.5" font-size="14" font-family="Liberation Sans, sans-serif" font-weight="bold" text-anchor="end" fill="#000" >50</text>
<line x1="376.1" y1="29.3" x2="381.3" y2="29.3" stroke="#000" stroke-width="1.5" />
<text x="374.2" y="34.3" font-size="14" font-family="Liberation Sans, sans-serif" font-weight="bold" text-anchor="end" fill="#000" >100</text>
<line x1="380.4" y1="134.72" x2="554.3" y2="134.72" stroke="#000" stroke-width="1.8" />
<line x1="387.04" y1="134.72" x2="387.04" y2="137.52" stroke="#000" stroke-width="1.3" />
<line x1="392.78" y1="134.72" x2="392.78" y2="137.52" stroke="#000" stroke-width="1.3" />
<line x1="398.52" y1="134.72" x2="398.52" y2="137.52" stroke="#000" stroke-width="1.3" />
<line x1="404.26" y1="134.72" x2="404.26" y2="137.52" stroke="#000" stroke-width="1.3" />
<line x1="410" y1="134.72" x2="410" y2="137.52" stroke="#000" stroke-width="1.3" />
<line x1="415.74" y1="134.72" x2="415.74" y2="137.52" stroke="#000" stroke-width="1.3" />
<line x1="421.48" y1="134.72" x2="421.48" y2="137.52" stroke="#000" stroke-width="1.3" />
<line x1="427.22" y1="134.72" x2="427.22" y2="137.52" stroke="#000" stroke-width="1.3" />
<line x1="432.96" y1="134.72" x2="432.96" y2="137.52" stroke="#000" stroke-width="1.3" />
<line x1="444.44" y1="134.72" x2="444.44" y2="137.52" stroke="#000" stroke-width="1.3" />
<line x1="450.18" y1="134.72" x2="450.18" y2="137.52" stroke="#000" stroke-width="1.3" />
<line x1="455.92" y1="134.72" x2="455.92" y2="137.52" stroke="#000" stroke-width="1.3" />
<line x1="461.66" y1="134.72" x2="461.66" y2="137.52" stroke="#000" stroke-width="1.3" />
<line x1="467.4" y1="134.72" x2="467.4" y2="137.52" stroke="#000" stroke-width="1.3" />
<line x1="473.14" y1="134.72" x2="473.14" y2="137.52" stroke="#000" stroke-width="1.3" />
<line x1="478.88" y1="134.72" x2="478.88" y2="137.52" stroke="#000" stroke-width="1.3" />
<line x1="484.62" y1="134.72" x2="484.62" y2="137.52" stroke="#000" stroke-width="1.3" />
<line x1="490.36" y1="134.72" x2="490.36" y2="137.52" stroke="#000" stroke-width="1.3" />
<line x1="501.84" y1="134.72" x2="501.84" y2="137.52" stroke="#000" stroke-width="1.3" />
<line x1="507.58" y1="134.72" x2="507.58" y2="137.52" stroke="#000" stroke-width="1.3" />
<line x1="513.32" y1="134.72" x2="513.32" y2="137.52" stroke="#000" stroke-width="1.3" />
<line x1="519.06" y1="134.72" x2="519.06" y2="137.52" stroke="#000" stroke-width="1.3" />
<line x1="524.8" y1="134.72" x2="524.8" y2="137.52" stroke="#000" stroke-width="1.3" />
<line x1="530.54" y1="134.72" x2="530.54" y2="137.52" stroke="#000" stroke-width="1.3" />
<line x1="536.28" y1="134.72" x2="536.28" y2="137.52" stroke="#000" stroke-width="1.3" />
<line x1="542.02" y1="134.72" x2="542.02" y2="137.52" stroke="#000" stroke-width="1.3" />
<line x1="547.76" y1="134.72" x2="547.76" y2="137.52" stroke="#000" stroke-width="1.3" />
<line x1="438.7" y1="134.72" x2="438.7" y2="139.92" stroke="#000" stroke-width="1.5" />
<line x1="496.1" y1="134.72" x2="496.1" y2="139.92" stroke="#000" stroke-width="1.5" />
<line x1="553.5" y1="134.72" x2="553.5" y2="139.92" stroke="#000" stroke-width="1.5" />
<text x="381.3" y="155" font-size="14" font-family="Liberation Sans, sans-serif" font-weight="bold" text-anchor="middle" fill="#000" >40</text>
<text x="438.7" y="155" font-size="14" font-family="Liberation Sans, sans-serif" font-weight="bold" text-anchor="middle" fill="#000" >50</text>
<text x="496.1" y="155" font-size="14" font-family="Liberation Sans, sans-serif" font-weight="bold" text-anchor="middle" fill="#000" >60</text>
<text x="553.5" y="155" font-size="14" font-family="Liberation Sans, sans-serif" font-weight="bold" text-anchor="middle" fill="#000" >70</text>
<text x="467.4" y="176.9" font-size="14" font-family="Liberation Sans, sans-serif" font-weight="bold" text-anchor="middle" fill="#000" >Temperature (°C)</text>
<text transform="translate(353.1 73.6) rotate(-90)" font-size="13.5" font-family="Liberation Sans, sans-serif" font-weight="bold" text-anchor="middle">% RFU</text>
<line x1="453.05" y1="125.68" x2="453.05" y2="133.72" stroke="#a0a0ff" stroke-width="0.8" />
<line x1="450.65" y1="125.68" x2="455.45" y2="125.68" stroke="#a0a0ff" stroke-width="0.8" />
<line x1="450.65" y1="133.72" x2="455.45" y2="133.72" stroke="#a0a0ff" stroke-width="0.8" />
<line x1="455.92" y1="125.62" x2="455.92" y2="133.65" stroke="#a0a0ff" stroke-width="0.8" />
<line x1="453.52" y1="125.62" x2="458.32" y2="125.62" stroke="#a0a0ff" stroke-width="0.8" />
<line x1="453.52" y1="133.65" x2="458.32" y2="133.65" stroke="#a0a0ff" stroke-width="0.8" />
<line x1="458.79" y1="125.54" x2="458.79" y2="133.57" stroke="#a0a0ff" stroke-width="0.8" />
<line x1="456.39" y1="125.54" x2="461.19" y2="125.54" stroke="#a0a0ff" stroke-width="0.8" />
<line x1="456.39" y1="133.57" x2="461.19" y2="133.57" stroke="#a0a0ff" stroke-width="0.8" />
<line x1="461.66" y1="125.42" x2="461.66" y2="133.45" stroke="#a0a0ff" stroke-width="0.8" />
<line x1="459.26" y1="125.42" x2="464.06" y2="125.42" stroke="#a0a0ff" stroke-width="0.8" />
<line x1="459.26" y1="133.45" x2="464.06" y2="133.45" stroke="#a0a0ff" stroke-width="0.8" />
<line x1="464.53" y1="125.25" x2="464.53" y2="133.28" stroke="#a0a0ff" stroke-width="0.8" />
<line x1="462.13" y1="125.25" x2="466.93" y2="125.25" stroke="#a0a0ff" stroke-width="0.8" />
<line x1="462.13" y1="133.28" x2="466.93" y2="133.28" stroke="#a0a0ff" stroke-width="0.8" />
<line x1="467.4" y1="125.01" x2="467.4" y2="133.04" stroke="#a0a0ff" stroke-width="0.8" />
<line x1="465" y1="125.01" x2="469.8" y2="125.01" stroke="#a0a0ff" stroke-width="0.8" />
<line x1="465" y1="133.04" x2="469.8" y2="133.04" stroke="#a0a0ff" stroke-width="0.8" />
<line x1="470.27" y1="124.67" x2="470.27" y2="132.7" stroke="#a0a0ff" stroke-width="0.8" />
<line x1="467.87" y1="124.67" x2="472.67" y2="124.67" stroke="#a0a0ff" stroke-width="0.8" />
<line x1="467.87" y1="132.7" x2="472.67" y2="132.7" stroke="#a0a0ff" stroke-width="0.8" />
<line x1="473.14" y1="124.2" x2="473.14" y2="132.23" stroke="#a0a0ff" stroke-width="0.8" />
<line x1="470.74" y1="124.2" x2="475.54" y2="124.2" stroke="#a0a0ff" stroke-width="0.8" />
<line x1="470.74" y1="132.23" x2="475.54" y2="132.23" stroke="#a0a0ff" stroke-width="0.8" />
<line x1="476.01" y1="123.54" x2="476.01" y2="131.57" stroke="#a0a0ff" stroke-width="0.8" />
<line x1="473.61" y1="123.54" x2="478.41" y2="123.54" stroke="#a0a0ff" stroke-width="0.8" />
<line x1="473.61" y1="131.57" x2="478.41" y2="131.57" stroke="#a0a0ff" stroke-width="0.8" />
<line x1="478.88" y1="122.62" x2="478.88" y2="130.66" stroke="#a0a0ff" stroke-width="0.8" />
<line x1="476.48" y1="122.62" x2="481.28" y2="122.62" stroke="#a0a0ff" stroke-width="0.8" />
<line x1="476.48" y1="130.66" x2="481.28" y2="130.66" stroke="#a0a0ff" stroke-width="0.8" />
<line x1="481.75" y1="121.35" x2="481.75" y2="129.4" stroke="#a0a0ff" stroke-width="0.8" />
<line x1="479.35" y1="121.35" x2="484.15" y2="121.35" stroke="#a0a0ff" stroke-width="0.8" />
<line x1="479.35" y1="129.4" x2="484.15" y2="129.4" stroke="#a0a0ff" stroke-width="0.8" />
<line x1="484.62" y1="119.61" x2="484.62" y2="127.68" stroke="#a0a0ff" stroke-width="0.8" />
<line x1="482.22" y1="119.61" x2="487.02" y2="119.61" stroke="#a0a0ff" stroke-width="0.8" />
<line x1="482.22" y1="127.68" x2="487.02" y2="127.68" stroke="#a0a0ff" stroke-width="0.8" />
<line x1="487.49" y1="117.24" x2="487.49" y2="125.35" stroke="#a0a0ff" stroke-width="0.8" />
<line x1="485.09" y1="117.24" x2="489.89" y2="117.24" stroke="#a0a0ff" stroke-width="0.8" />
<line x1="485.09" y1="125.35" x2="489.89" y2="125.35" stroke="#a0a0ff" stroke-width="0.8" />
<line x1="490.36" y1="114.09" x2="490.36" y2="122.25" stroke="#a0a0ff" stroke-width="0.8" />
<line x1="487.96" y1="114.09" x2="492.76" y2="114.09" stroke="#a0a0ff" stroke-width="0.8" />
<line x1="487.96" y1="122.25" x2="492.76" y2="122.25" stroke="#a0a0ff" stroke-width="0.8" />
<line x1="493.23" y1="109.95" x2="493.23" y2="118.23" stroke="#a0a0ff" stroke-width="0.8" />
<line x1="490.83" y1="109.95" x2="495.63" y2="109.95" stroke="#a0a0ff" stroke-width="0.8" />
<line x1="490.83" y1="118.23" x2="495.63" y2="118.23" stroke="#a0a0ff" stroke-width="0.8" />
<line x1="496.1" y1="104.67" x2="496.1" y2="113.14" stroke="#a0a0ff" stroke-width="0.8" />
<line x1="493.7" y1="104.67" x2="498.5" y2="104.67" stroke="#a0a0ff" stroke-width="0.8" />
<line x1="493.7" y1="113.14" x2="498.5" y2="113.14" stroke="#a0a0ff" stroke-width="0.8" />
<line x1="498.97" y1="98.16" x2="498.97" y2="106.93" stroke="#a0a0ff" stroke-width="0.8" />
<line x1="496.57" y1="98.16" x2="501.37" y2="98.16" stroke="#a0a0ff" stroke-width="0.8" />
<line x1="496.57" y1="106.93" x2="501.37" y2="106.93" stroke="#a0a0ff" stroke-width="0.8" />
<line x1="501.84" y1="90.44" x2="501.84" y2="99.67" stroke="#a0a0ff" stroke-width="0.8" />
<line x1="499.44" y1="90.44" x2="504.24" y2="90.44" stroke="#a0a0ff" stroke-width="0.8" />
<line x1="499.44" y1="99.67" x2="504.24" y2="99.67" stroke="#a0a0ff" stroke-width="0.8" />
<line x1="504.71" y1="81.73" x2="504.71" y2="91.61" stroke="#a0a0ff" stroke-width="0.8" />
<line x1="502.31" y1="81.73" x2="507.11" y2="81.73" stroke="#a0a0ff" stroke-width="0.8" />
<line x1="502.31" y1="91.61" x2="507.11" y2="91.61" stroke="#a0a0ff" stroke-width="0.8" />
<line x1="507.58" y1="72.42" x2="507.58" y2="83.14" stroke="#a0a0ff" stroke-width="0.8" />
<line x1="505.18" y1="72.42" x2="509.98" y2="72.42" stroke="#a0a0ff" stroke-width="0.8" />
<line x1="505.18" y1="83.14" x2="509.98" y2="83.14" stroke="#a0a0ff" stroke-width="0.8" />
<line x1="510.45" y1="61.12" x2="510.45" y2="73.06" stroke="#a0a0ff" stroke-width="0.8" />
<line x1="508.05" y1="61.12" x2="512.85" y2="61.12" stroke="#a0a0ff" stroke-width="0.8" />
<line x1="508.05" y1="73.06" x2="512.85" y2="73.06" stroke="#a0a0ff" stroke-width="0.8" />
<line x1="513.32" y1="50.63" x2="513.32" y2="63.89" stroke="#a0a0ff" stroke-width="0.8" />
<line x1="510.92" y1="50.63" x2="515.72" y2="50.63" stroke="#a0a0ff" stroke-width="0.8" />
<line x1="510.92" y1="63.89" x2="515.72" y2="63.89" stroke="#a0a0ff" stroke-width="0.8" />
<line x1="516.19" y1="41.64" x2="516.19" y2="56.17" stroke="#a0a0ff" stroke-width="0.8" />
<line x1="513.79" y1="41.64" x2="518.59" y2="41.64" stroke="#a0a0ff" stroke-width="0.8" />
<line x1="513.79" y1="56.17" x2="518.59" y2="56.17" stroke="#a0a0ff" stroke-width="0.8" />
<line x1="519.06" y1="34.43" x2="519.06" y2="50.08" stroke="#a0a0ff" stroke-width="0.8" />
<line x1="516.66" y1="34.43" x2="521.46" y2="34.43" stroke="#a0a0ff" stroke-width="0.8" />
<line x1="516.66" y1="50.08" x2="521.46" y2="50.08" stroke="#a0a0ff" stroke-width="0.8" />
<line x1="521.93" y1="28.97" x2="521.93" y2="45.52" stroke="#a0a0ff" stroke-width="0.8" />
<line x1="519.53" y1="28.97" x2="524.33" y2="28.97" stroke="#a0a0ff" stroke-width="0.8" />
<line x1="519.53" y1="45.52" x2="524.33" y2="45.52" stroke="#a0a0ff" stroke-width="0.8" />
<line x1="524.8" y1="25" x2="524.8" y2="42.23" stroke="#a0a0ff" stroke-width="0.8" />
<line x1="522.4" y1="25" x2="527.2" y2="25" stroke="#a0a0ff" stroke-width="0.8" />
<line x1="522.4" y1="42.23" x2="527.2" y2="42.23" stroke="#a0a0ff" stroke-width="0.8" />
<line x1="527.67" y1="22.2" x2="527.67" y2="39.92" stroke="#a0a0ff" stroke-width="0.8" />
<line x1="525.27" y1="22.2" x2="530.07" y2="22.2" stroke="#a0a0ff" stroke-width="0.8" />
<line x1="525.27" y1="39.92" x2="530.07" y2="39.92" stroke="#a0a0ff" stroke-width="0.8" />
<line x1="530.54" y1="20.26" x2="530.54" y2="38.34" stroke="#a0a0ff" stroke-width="0.8" />
<line x1="528.14" y1="20.26" x2="532.94" y2="20.26" stroke="#a0a0ff" stroke-width="0.8" />
<line x1="528.14" y1="38.34" x2="532.94" y2="38.34" stroke="#a0a0ff" stroke-width="0.8" />
<path d="M453.05 129.7 L455.92 129.64 L458.79 129.55 L461.66 129.43 L464.53 129.26 L467.4 129.02 L470.27 128.68 L473.14 128.21 L476.01 127.55 L478.88 126.64 L481.75 125.37 L484.62 123.64 L487.49 121.3 L490.36 118.17 L493.23 114.09 L496.1 108.9 L498.97 102.54 L501.84 95.06 L504.71 86.67 L507.58 77.78 L510.45 67.09 L513.32 57.26 L516.19 48.9 L519.06 42.26 L521.93 37.24 L524.8 33.61 L527.67 31.06 L530.54 29.3" fill="none" stroke="#8c8cff" stroke-width="0.8"/>
<path d="M453.05 126.73L455.8 131.93L450.3 131.93Z" fill="#8c8cff"/>
<path d="M455.92 126.67L458.67 131.87L453.17 131.87Z" fill="#8c8cff"/>
<path d="M458.79 126.58L461.54 131.78L456.04 131.78Z" fill="#8c8cff"/>
<path d="M461.66 126.46L464.41 131.66L458.91 131.66Z" fill="#8c8cff"/>
<path d="M464.53 126.29L467.28 131.49L461.78 131.49Z" fill="#8c8cff"/>
<path d="M467.4 126.05L470.15 131.25L464.65 131.25Z" fill="#8c8cff"/>
<path d="M470.27 125.71L473.02 130.91L467.52 130.91Z" fill="#8c8cff"/>
<path d="M473.14 125.24L475.89 130.44L470.39 130.44Z" fill="#8c8cff"/>
<path d="M476.01 124.58L478.76 129.78L473.26 129.78Z" fill="#8c8cff"/>
<path d="M478.88 123.67L481.63 128.87L476.13 128.87Z" fill="#8c8cff"/>
<path d="M481.75 122.4L484.5 127.6L479 127.6Z" fill="#8c8cff"/>
<path d="M484.62 120.67L487.37 125.87L481.87 125.87Z" fill="#8c8cff"/>
<path d="M487.49 118.33L490.24 123.52L484.74 123.52Z" fill="#8c8cff"/>
<path d="M490.36 115.2L493.11 120.4L487.61 120.4Z" fill="#8c8cff"/>
<path d="M493.23 111.12L495.98 116.32L490.48 116.32Z" fill="#8c8cff"/>
<path d="M496.1 105.93L498.85 111.13L493.35 111.13Z" fill="#8c8cff"/>
<path d="M498.97 99.57L501.72 104.77L496.22 104.77Z" fill="#8c8cff"/>
<path d="M501.84 92.09L504.59 97.28L499.09 97.28Z" fill="#8c8cff"/>
<path d="M504.71 83.7L507.46 88.9L501.96 88.9Z" fill="#8c8cff"/>
<path d="M507.58 74.81L510.33 80.01L504.83 80.01Z" fill="#8c8cff"/>
<path d="M510.45 64.12L513.2 69.32L507.7 69.32Z" fill="#8c8cff"/>
<path d="M513.32 54.29L516.07 59.49L510.57 59.49Z" fill="#8c8cff"/>
<path d="M516.19 45.93L518.94 51.13L513.44 51.13Z" fill="#8c8cff"/>
<path d="M519.06 39.29L521.81 44.48L516.31 44.48Z" fill="#8c8cff"/>
<path d="M521.93 34.27L524.68 39.47L519.18 39.47Z" fill="#8c8cff"/>
<path d="M524.8 30.64L527.55 35.84L522.05 35.84Z" fill="#8c8cff"/>
<path d="M527.67 28.09L530.42 33.29L524.92 33.29Z" fill="#8c8cff"/>
<path d="M530.54 26.33L533.29 31.53L527.79 31.53Z" fill="#8c8cff"/>
<line x1="450.18" y1="125.68" x2="450.18" y2="133.72" stroke="#7070ff" stroke-width="0.8" />
<line x1="447.78" y1="125.68" x2="452.58" y2="125.68" stroke="#7070ff" stroke-width="0.8" />
<line x1="447.78" y1="133.72" x2="452.58" y2="133.72" stroke="#7070ff" stroke-width="0.8" />
<line x1="453.05" y1="125.56" x2="453.05" y2="133.6" stroke="#7070ff" stroke-width="0.8" />
<line x1="450.65" y1="125.56" x2="455.45" y2="125.56" stroke="#7070ff" stroke-width="0.8" />
<line x1="450.65" y1="133.6" x2="455.45" y2="133.6" stroke="#7070ff" stroke-width="0.8" />
<line x1="455.92" y1="125.4" x2="455.92" y2="133.43" stroke="#7070ff" stroke-width="0.8" />
<line x1="453.52" y1="125.4" x2="458.32" y2="125.4" stroke="#7070ff" stroke-width="0.8" />
<line x1="453.52" y1="133.43" x2="458.32" y2="133.43" stroke="#7070ff" stroke-width="0.8" />
<line x1="458.79" y1="125.16" x2="458.79" y2="133.19" stroke="#7070ff" stroke-width="0.8" />
<line x1="456.39" y1="125.16" x2="461.19" y2="125.16" stroke="#7070ff" stroke-width="0.8" />
<line x1="456.39" y1="133.19" x2="461.19" y2="133.19" stroke="#7070ff" stroke-width="0.8" />
<line x1="461.66" y1="124.83" x2="461.66" y2="132.86" stroke="#7070ff" stroke-width="0.8" />
<line x1="459.26" y1="124.83" x2="464.06" y2="124.83" stroke="#7070ff" stroke-width="0.8" />
<line x1="459.26" y1="132.86" x2="464.06" y2="132.86" stroke="#7070ff" stroke-width="0.8" />
<line x1="464.53" y1="124.36" x2="464.53" y2="132.4" stroke="#7070ff" stroke-width="0.8" />
<line x1="462.13" y1="124.36" x2="466.93" y2="124.36" stroke="#7070ff" stroke-width="0.8" />
<line x1="462.13" y1="132.4" x2="466.93" y2="132.4" stroke="#7070ff" stroke-width="0.8" />
<line x1="467.4" y1="123.71" x2="467.4" y2="131.75" stroke="#7070ff" stroke-width="0.8" />
<line x1="465" y1="123.71" x2="469.8" y2="123.71" stroke="#7070ff" stroke-width="0.8" />
<line x1="465" y1="131.75" x2="469.8" y2="131.75" stroke="#7070ff" stroke-width="0.8" />
<line x1="470.27" y1="122.81" x2="470.27" y2="130.85" stroke="#7070ff" stroke-width="0.8" />
<line x1="467.87" y1="122.81" x2="472.67" y2="122.81" stroke="#7070ff" stroke-width="0.8" />
<line x1="467.87" y1="130.85" x2="472.67" y2="130.85" stroke="#7070ff" stroke-width="0.8" />
<line x1="473.14" y1="121.55" x2="473.14" y2="129.6" stroke="#7070ff" stroke-width="0.8" />
<line x1="470.74" y1="121.55" x2="475.54" y2="121.55" stroke="#7070ff" stroke-width="0.8" />
<line x1="470.74" y1="129.6" x2="475.54" y2="129.6" stroke="#7070ff" stroke-width="0.8" />
<line x1="476.01" y1="119.84" x2="476.01" y2="127.9" stroke="#7070ff" stroke-width="0.8" />
<line x1="473.61" y1="119.84" x2="478.41" y2="119.84" stroke="#7070ff" stroke-width="0.8" />
<line x1="473.61" y1="127.9" x2="478.41" y2="127.9" stroke="#7070ff" stroke-width="0.8" />
<line x1="478.88" y1="117.51" x2="478.88" y2="125.61" stroke="#7070ff" stroke-width="0.8" />
<line x1="476.48" y1="117.51" x2="481.28" y2="117.51" stroke="#7070ff" stroke-width="0.8" />
<line x1="476.48" y1="125.61" x2="481.28" y2="125.61" stroke="#7070ff" stroke-width="0.8" />
<line x1="481.75" y1="114.39" x2="481.75" y2="122.55" stroke="#7070ff" stroke-width="0.8" />
<line x1="479.35" y1="114.39" x2="484.15" y2="114.39" stroke="#7070ff" stroke-width="0.8" />
<line x1="479.35" y1="122.55" x2="484.15" y2="122.55" stroke="#7070ff" stroke-width="0.8" />
<line x1="484.62" y1="110.32" x2="484.62" y2="118.58" stroke="#7070ff" stroke-width="0.8" />
<line x1="482.22" y1="110.32" x2="487.02" y2="110.32" stroke="#7070ff" stroke-width="0.8" />
<line x1="482.22" y1="118.58" x2="487.02" y2="118.58" stroke="#7070ff" stroke-width="0.8" />
<line x1="487.49" y1="105.11" x2="487.49" y2="113.56" stroke="#7070ff" stroke-width="0.8" />
<line x1="485.09" y1="105.11" x2="489.89" y2="105.11" stroke="#7070ff" stroke-width="0.8" />
<line x1="485.09" y1="113.56" x2="489.89" y2="113.56" stroke="#7070ff" stroke-width="0.8" />
<line x1="490.36" y1="98.69" x2="490.36" y2="107.43" stroke="#7070ff" stroke-width="0.8" />
<line x1="487.96" y1="98.69" x2="492.76" y2="98.69" stroke="#7070ff" stroke-width="0.8" />
<line x1="487.96" y1="107.43" x2="492.76" y2="107.43" stroke="#7070ff" stroke-width="0.8" />
<line x1="493.23" y1="91.08" x2="493.23" y2="100.27" stroke="#7070ff" stroke-width="0.8" />
<line x1="490.83" y1="91.08" x2="495.63" y2="91.08" stroke="#7070ff" stroke-width="0.8" />
<line x1="490.83" y1="100.27" x2="495.63" y2="100.27" stroke="#7070ff" stroke-width="0.8" />
<line x1="496.1" y1="82.5" x2="496.1" y2="92.31" stroke="#7070ff" stroke-width="0.8" />
<line x1="493.7" y1="82.5" x2="498.5" y2="82.5" stroke="#7070ff" stroke-width="0.8" />
<line x1="493.7" y1="92.31" x2="498.5" y2="92.31" stroke="#7070ff" stroke-width="0.8" />
<line x1="498.97" y1="73.33" x2="498.97" y2="83.95" stroke="#7070ff" stroke-width="0.8" />
<line x1="496.57" y1="73.33" x2="501.37" y2="73.33" stroke="#7070ff" stroke-width="0.8" />
<line x1="496.57" y1="83.95" x2="501.37" y2="83.95" stroke="#7070ff" stroke-width="0.8" />
<line x1="501.84" y1="61.72" x2="501.84" y2="73.58" stroke="#7070ff" stroke-width="0.8" />
<line x1="499.44" y1="61.72" x2="504.24" y2="61.72" stroke="#7070ff" stroke-width="0.8" />
<line x1="499.44" y1="73.58" x2="504.24" y2="73.58" stroke="#7070ff" stroke-width="0.8" />
<line x1="504.71" y1="51.02" x2="504.71" y2="64.22" stroke="#7070ff" stroke-width="0.8" />
<line x1="502.31" y1="51.02" x2="507.11" y2="51.02" stroke="#7070ff" stroke-width="0.8" />
<line x1="502.31" y1="64.22" x2="507.11" y2="64.22" stroke="#7070ff" stroke-width="0.8" />
<line x1="507.58" y1="41.97" x2="507.58" y2="56.45" stroke="#7070ff" stroke-width="0.8" />
<line x1="505.18" y1="41.97" x2="509.98" y2="41.97" stroke="#7070ff" stroke-width="0.8" />
<line x1="505.18" y1="56.45" x2="509.98" y2="56.45" stroke="#7070ff" stroke-width="0.8" />
<line x1="510.45" y1="34.84" x2="510.45" y2="50.43" stroke="#7070ff" stroke-width="0.8" />
<line x1="508.05" y1="34.84" x2="512.85" y2="34.84" stroke="#7070ff" stroke-width="0.8" />
<line x1="508.05" y1="50.43" x2="512.85" y2="50.43" stroke="#7070ff" stroke-width="0.8" />
<line x1="513.32" y1="29.55" x2="513.32" y2="46" stroke="#7070ff" stroke-width="0.8" />
<line x1="510.92" y1="29.55" x2="515.72" y2="29.55" stroke="#7070ff" stroke-width="0.8" />
<line x1="510.92" y1="46" x2="515.72" y2="46" stroke="#7070ff" stroke-width="0.8" />
<line x1="516.19" y1="25.79" x2="516.19" y2="42.88" stroke="#7070ff" stroke-width="0.8" />
<line x1="513.79" y1="25.79" x2="518.59" y2="25.79" stroke="#7070ff" stroke-width="0.8" />
<line x1="513.79" y1="42.88" x2="518.59" y2="42.88" stroke="#7070ff" stroke-width="0.8" />
<line x1="519.06" y1="23.19" x2="519.06" y2="40.73" stroke="#7070ff" stroke-width="0.8" />
<line x1="516.66" y1="23.19" x2="521.46" y2="23.19" stroke="#7070ff" stroke-width="0.8" />
<line x1="516.66" y1="40.73" x2="521.46" y2="40.73" stroke="#7070ff" stroke-width="0.8" />
<line x1="521.93" y1="21.43" x2="521.93" y2="39.29" stroke="#7070ff" stroke-width="0.8" />
<line x1="519.53" y1="21.43" x2="524.33" y2="21.43" stroke="#7070ff" stroke-width="0.8" />
<line x1="519.53" y1="39.29" x2="524.33" y2="39.29" stroke="#7070ff" stroke-width="0.8" />
<line x1="524.8" y1="20.26" x2="524.8" y2="38.34" stroke="#7070ff" stroke-width="0.8" />
<line x1="522.4" y1="20.26" x2="527.2" y2="20.26" stroke="#7070ff" stroke-width="0.8" />
<line x1="522.4" y1="38.34" x2="527.2" y2="38.34" stroke="#7070ff" stroke-width="0.8" />
<path d="M450.18 129.7 L453.05 129.58 L455.92 129.41 L458.79 129.18 L461.66 128.84 L464.53 128.38 L467.4 127.73 L470.27 126.83 L473.14 125.58 L476.01 123.87 L478.88 121.56 L481.75 118.47 L484.62 114.45 L487.49 109.34 L490.36 103.06 L493.23 95.68 L496.1 87.41 L498.97 78.64 L501.84 67.65 L504.71 57.62 L507.58 49.21 L510.45 42.63 L513.32 37.78 L516.19 34.33 L519.06 31.96 L521.93 30.36 L524.8 29.3" fill="none" stroke="#5555ff" stroke-width="0.8"/>
<rect x="447.58" y="127.1" width="5.2" height="5.2" fill="#5555ff"/>
<rect x="450.45" y="126.98" width="5.2" height="5.2" fill="#5555ff"/>
<rect x="453.32" y="126.81" width="5.2" height="5.2" fill="#5555ff"/>
<rect x="456.19" y="126.58" width="5.2" height="5.2" fill="#5555ff"/>
<rect x="459.06" y="126.24" width="5.2" height="5.2" fill="#5555ff"/>
<rect x="461.93" y="125.78" width="5.2" height="5.2" fill="#5555ff"/>
<rect x="464.8" y="125.13" width="5.2" height="5.2" fill="#5555ff"/>
<rect x="467.67" y="124.23" width="5.2" height="5.2" fill="#5555ff"/>
<rect x="470.54" y="122.98" width="5.2" height="5.2" fill="#5555ff"/>
<rect x="473.41" y="121.27" width="5.2" height="5.2" fill="#5555ff"/>
<rect x="476.28" y="118.96" width="5.2" height="5.2" fill="#5555ff"/>
<rect x="479.15" y="115.87" width="5.2" height="5.2" fill="#5555ff"/>
<rect x="482.02" y="111.85" width="5.2" height="5.2" fill="#5555ff"/>
<rect x="484.89" y="106.74" width="5.2" height="5.2" fill="#5555ff"/>
<rect x="487.76" y="100.46" width="5.2" height="5.2" fill="#5555ff"/>
<rect x="490.63" y="93.08" width="5.2" height="5.2" fill="#5555ff"/>
<rect x="493.5" y="84.81" width="5.2" height="5.2" fill="#5555ff"/>
<rect x="496.37" y="76.04" width="5.2" height="5.2" fill="#5555ff"/>
<rect x="499.24" y="65.05" width="5.2" height="5.2" fill="#5555ff"/>
<rect x="502.11" y="55.02" width="5.2" height="5.2" fill="#5555ff"/>
<rect x="504.98" y="46.61" width="5.2" height="5.2" fill="#5555ff"/>
<rect x="507.85" y="40.03" width="5.2" height="5.2" fill="#5555ff"/>
<rect x="510.72" y="35.18" width="5.2" height="5.2" fill="#5555ff"/>
<rect x="513.59" y="31.73" width="5.2" height="5.2" fill="#5555ff"/>
<rect x="516.46" y="29.36" width="5.2" height="5.2" fill="#5555ff"/>
<rect x="519.33" y="27.76" width="5.2" height="5.2" fill="#5555ff"/>
<rect x="522.2" y="26.7" width="5.2" height="5.2" fill="#5555ff"/>
<line x1="447.88" y1="126.19" x2="447.88" y2="133.21" stroke="#3030ff" stroke-width="0.8" />
<line x1="445.48" y1="126.19" x2="450.28" y2="126.19" stroke="#3030ff" stroke-width="0.8" />
<line x1="445.48" y1="133.21" x2="450.28" y2="133.21" stroke="#3030ff" stroke-width="0.8" />
<line x1="450.75" y1="125.61" x2="450.75" y2="132.64" stroke="#3030ff" stroke-width="0.8" />
<line x1="448.35" y1="125.61" x2="453.15" y2="125.61" stroke="#3030ff" stroke-width="0.8" />
<line x1="448.35" y1="132.64" x2="453.15" y2="132.64" stroke="#3030ff" stroke-width="0.8" />
<line x1="453.62" y1="124.82" x2="453.62" y2="131.85" stroke="#3030ff" stroke-width="0.8" />
<line x1="451.22" y1="124.82" x2="456.02" y2="124.82" stroke="#3030ff" stroke-width="0.8" />
<line x1="451.22" y1="131.85" x2="456.02" y2="131.85" stroke="#3030ff" stroke-width="0.8" />
<line x1="456.49" y1="123.76" x2="456.49" y2="130.78" stroke="#3030ff" stroke-width="0.8" />
<line x1="454.09" y1="123.76" x2="458.89" y2="123.76" stroke="#3030ff" stroke-width="0.8" />
<line x1="454.09" y1="130.78" x2="458.89" y2="130.78" stroke="#3030ff" stroke-width="0.8" />
<line x1="459.36" y1="122.32" x2="459.36" y2="129.35" stroke="#3030ff" stroke-width="0.8" />
<line x1="456.96" y1="122.32" x2="461.76" y2="122.32" stroke="#3030ff" stroke-width="0.8" />
<line x1="456.96" y1="129.35" x2="461.76" y2="129.35" stroke="#3030ff" stroke-width="0.8" />
<line x1="462.23" y1="120.4" x2="462.23" y2="127.43" stroke="#3030ff" stroke-width="0.8" />
<line x1="459.83" y1="120.4" x2="464.63" y2="120.4" stroke="#3030ff" stroke-width="0.8" />
<line x1="459.83" y1="127.43" x2="464.63" y2="127.43" stroke="#3030ff" stroke-width="0.8" />
<line x1="465.1" y1="117.88" x2="465.1" y2="124.91" stroke="#3030ff" stroke-width="0.8" />
<line x1="462.7" y1="117.88" x2="467.5" y2="117.88" stroke="#3030ff" stroke-width="0.8" />
<line x1="462.7" y1="124.91" x2="467.5" y2="124.91" stroke="#3030ff" stroke-width="0.8" />
<line x1="467.97" y1="114.6" x2="467.97" y2="121.63" stroke="#3030ff" stroke-width="0.8" />
<line x1="465.57" y1="114.6" x2="470.37" y2="114.6" stroke="#3030ff" stroke-width="0.8" />
<line x1="465.57" y1="121.63" x2="470.37" y2="121.63" stroke="#3030ff" stroke-width="0.8" />
<line x1="470.84" y1="110.43" x2="470.84" y2="117.46" stroke="#3030ff" stroke-width="0.8" />
<line x1="468.44" y1="110.43" x2="473.24" y2="110.43" stroke="#3030ff" stroke-width="0.8" />
<line x1="468.44" y1="117.46" x2="473.24" y2="117.46" stroke="#3030ff" stroke-width="0.8" />
<line x1="473.71" y1="105.25" x2="473.71" y2="112.3" stroke="#3030ff" stroke-width="0.8" />
<line x1="471.31" y1="105.25" x2="476.11" y2="105.25" stroke="#3030ff" stroke-width="0.8" />
<line x1="471.31" y1="112.3" x2="476.11" y2="112.3" stroke="#3030ff" stroke-width="0.8" />
<line x1="476.58" y1="99.04" x2="476.58" y2="106.12" stroke="#3030ff" stroke-width="0.8" />
<line x1="474.18" y1="99.04" x2="478.98" y2="99.04" stroke="#3030ff" stroke-width="0.8" />
<line x1="474.18" y1="106.12" x2="478.98" y2="106.12" stroke="#3030ff" stroke-width="0.8" />
<line x1="479.45" y1="91.84" x2="479.45" y2="99" stroke="#3030ff" stroke-width="0.8" />
<line x1="477.05" y1="91.84" x2="481.85" y2="91.84" stroke="#3030ff" stroke-width="0.8" />
<line x1="477.05" y1="99" x2="481.85" y2="99" stroke="#3030ff" stroke-width="0.8" />
<line x1="482.32" y1="83.84" x2="482.32" y2="91.18" stroke="#3030ff" stroke-width="0.8" />
<line x1="479.92" y1="83.84" x2="484.72" y2="83.84" stroke="#3030ff" stroke-width="0.8" />
<line x1="479.92" y1="91.18" x2="484.72" y2="91.18" stroke="#3030ff" stroke-width="0.8" />
<line x1="485.19" y1="75.35" x2="485.19" y2="83.02" stroke="#3030ff" stroke-width="0.8" />
<line x1="482.79" y1="75.35" x2="487.59" y2="75.35" stroke="#3030ff" stroke-width="0.8" />
<line x1="482.79" y1="83.02" x2="487.59" y2="83.02" stroke="#3030ff" stroke-width="0.8" />
<line x1="488.06" y1="65.12" x2="488.06" y2="73.47" stroke="#3030ff" stroke-width="0.8" />
<line x1="485.66" y1="65.12" x2="490.46" y2="65.12" stroke="#3030ff" stroke-width="0.8" />
<line x1="485.66" y1="73.47" x2="490.46" y2="73.47" stroke="#3030ff" stroke-width="0.8" />
<line x1="490.93" y1="55.42" x2="490.93" y2="64.77" stroke="#3030ff" stroke-width="0.8" />
<line x1="488.53" y1="55.42" x2="493.33" y2="55.42" stroke="#3030ff" stroke-width="0.8" />
<line x1="488.53" y1="64.77" x2="493.33" y2="64.77" stroke="#3030ff" stroke-width="0.8" />
<line x1="493.8" y1="46.78" x2="493.8" y2="57.4" stroke="#3030ff" stroke-width="0.8" />
<line x1="491.4" y1="46.78" x2="496.2" y2="46.78" stroke="#3030ff" stroke-width="0.8" />
<line x1="491.4" y1="57.4" x2="496.2" y2="57.4" stroke="#3030ff" stroke-width="0.8" />
<line x1="496.67" y1="39.53" x2="496.67" y2="51.52" stroke="#3030ff" stroke-width="0.8" />
<line x1="494.27" y1="39.53" x2="499.07" y2="39.53" stroke="#3030ff" stroke-width="0.8" />
<line x1="494.27" y1="51.52" x2="499.07" y2="51.52" stroke="#3030ff" stroke-width="0.8" />
<line x1="499.54" y1="33.74" x2="499.54" y2="47.06" stroke="#3030ff" stroke-width="0.8" />
<line x1="497.14" y1="33.74" x2="501.94" y2="33.74" stroke="#3030ff" stroke-width="0.8" />
<line x1="497.14" y1="47.06" x2="501.94" y2="47.06" stroke="#3030ff" stroke-width="0.8" />
<line x1="502.41" y1="29.31" x2="502.41" y2="43.78" stroke="#3030ff" stroke-width="0.8" />
<line x1="500.01" y1="29.31" x2="504.81" y2="29.31" stroke="#3030ff" stroke-width="0.8" />
<line x1="500.01" y1="43.78" x2="504.81" y2="43.78" stroke="#3030ff" stroke-width="0.8" />
<line x1="505.28" y1="26.02" x2="505.28" y2="41.43" stroke="#3030ff" stroke-width="0.8" />
<line x1="502.88" y1="26.02" x2="507.68" y2="26.02" stroke="#3030ff" stroke-width="0.8" />
<line x1="502.88" y1="41.43" x2="507.68" y2="41.43" stroke="#3030ff" stroke-width="0.8" />
<line x1="508.15" y1="23.64" x2="508.15" y2="39.78" stroke="#3030ff" stroke-width="0.8" />
<line x1="505.75" y1="23.64" x2="510.55" y2="23.64" stroke="#3030ff" stroke-width="0.8" />
<line x1="505.75" y1="39.78" x2="510.55" y2="39.78" stroke="#3030ff" stroke-width="0.8" />
<line x1="511.02" y1="21.95" x2="511.02" y2="38.63" stroke="#3030ff" stroke-width="0.8" />
<line x1="508.62" y1="21.95" x2="513.42" y2="21.95" stroke="#3030ff" stroke-width="0.8" />
<line x1="508.62" y1="38.63" x2="513.42" y2="38.63" stroke="#3030ff" stroke-width="0.8" />
<line x1="513.89" y1="20.77" x2="513.89" y2="37.83" stroke="#3030ff" stroke-width="0.8" />
<line x1="511.49" y1="20.77" x2="516.29" y2="20.77" stroke="#3030ff" stroke-width="0.8" />
<line x1="511.49" y1="37.83" x2="516.29" y2="37.83" stroke="#3030ff" stroke-width="0.8" />
<path d="M447.88 129.7 L450.75 129.12 L453.62 128.34 L456.49 127.27 L459.36 125.83 L462.23 123.92 L465.1 121.39 L467.97 118.11 L470.84 113.94 L473.71 108.78 L476.58 102.58 L479.45 95.42 L482.32 87.51 L485.19 79.19 L488.06 69.29 L490.93 60.09 L493.8 52.09 L496.67 45.53 L499.54 40.4 L502.41 36.54 L505.28 33.73 L508.15 31.71 L511.02 30.29 L513.89 29.3" fill="none" stroke="#0000ff" stroke-width="0.8"/>
<circle cx="447.88" cy="129.7" r="3" fill="#0000ff"/>
<circle cx="450.75" cy="129.12" r="3" fill="#0000ff"/>
<circle cx="453.62" cy="128.34" r="3" fill="#0000ff"/>
<circle cx="456.49" cy="127.27" r="3" fill="#0000ff"/>
<circle cx="459.36" cy="125.83" r="3" fill="#0000ff"/>
<circle cx="462.23" cy="123.92" r="3" fill="#0000ff"/>
<circle cx="465.1" cy="121.39" r="3" fill="#0000ff"/>
<circle cx="467.97" cy="118.11" r="3" fill="#0000ff"/>
<circle cx="470.84" cy="113.94" r="3" fill="#0000ff"/>
<circle cx="473.71" cy="108.78" r="3" fill="#0000ff"/>
<circle cx="476.58" cy="102.58" r="3" fill="#0000ff"/>
<circle cx="479.45" cy="95.42" r="3" fill="#0000ff"/>
<circle cx="482.32" cy="87.51" r="3" fill="#0000ff"/>
<circle cx="485.19" cy="79.19" r="3" fill="#0000ff"/>
<circle cx="488.06" cy="69.29" r="3" fill="#0000ff"/>
<circle cx="490.93" cy="60.09" r="3" fill="#0000ff"/>
<circle cx="493.8" cy="52.09" r="3" fill="#0000ff"/>
<circle cx="496.67" cy="45.53" r="3" fill="#0000ff"/>
<circle cx="499.54" cy="40.4" r="3" fill="#0000ff"/>
<circle cx="502.41" cy="36.54" r="3" fill="#0000ff"/>
<circle cx="505.28" cy="33.73" r="3" fill="#0000ff"/>
<circle cx="508.15" cy="31.71" r="3" fill="#0000ff"/>
<circle cx="511.02" cy="30.29" r="3" fill="#0000ff"/>
<circle cx="513.89" cy="29.3" r="3" fill="#0000ff"/>
<line x1="398.52" y1="125.68" x2="398.52" y2="133.72" stroke="#333" stroke-width="0.8" />
<line x1="395.52" y1="125.68" x2="401.52" y2="125.68" stroke="#333" stroke-width="0.8" />
<line x1="395.52" y1="133.72" x2="401.52" y2="133.72" stroke="#333" stroke-width="0.8" />
<line x1="401.39" y1="125.04" x2="401.39" y2="133.07" stroke="#333" stroke-width="0.8" />
<line x1="398.39" y1="125.04" x2="404.39" y2="125.04" stroke="#333" stroke-width="0.8" />
<line x1="398.39" y1="133.07" x2="404.39" y2="133.07" stroke="#333" stroke-width="0.8" />
<line x1="404.26" y1="124.14" x2="404.26" y2="132.17" stroke="#333" stroke-width="0.8" />
<line x1="401.26" y1="124.14" x2="407.26" y2="124.14" stroke="#333" stroke-width="0.8" />
<line x1="401.26" y1="132.17" x2="407.26" y2="132.17" stroke="#333" stroke-width="0.8" />
<line x1="407.13" y1="122.89" x2="407.13" y2="130.92" stroke="#333" stroke-width="0.8" />
<line x1="404.13" y1="122.89" x2="410.13" y2="122.89" stroke="#333" stroke-width="0.8" />
<line x1="404.13" y1="130.92" x2="410.13" y2="130.92" stroke="#333" stroke-width="0.8" />
<line x1="410" y1="121.19" x2="410" y2="129.22" stroke="#333" stroke-width="0.8" />
<line x1="407" y1="121.19" x2="413" y2="121.19" stroke="#333" stroke-width="0.8" />
<line x1="407" y1="129.22" x2="413" y2="129.22" stroke="#333" stroke-width="0.8" />
<line x1="412.87" y1="118.88" x2="412.87" y2="126.91" stroke="#333" stroke-width="0.8" />
<line x1="409.87" y1="118.88" x2="415.87" y2="118.88" stroke="#333" stroke-width="0.8" />
<line x1="409.87" y1="126.91" x2="415.87" y2="126.91" stroke="#333" stroke-width="0.8" />
<line x1="415.74" y1="115.81" x2="415.74" y2="123.84" stroke="#333" stroke-width="0.8" />
<line x1="412.74" y1="115.81" x2="418.74" y2="115.81" stroke="#333" stroke-width="0.8" />
<line x1="412.74" y1="123.84" x2="418.74" y2="123.84" stroke="#333" stroke-width="0.8" />
<line x1="418.61" y1="111.79" x2="418.61" y2="119.82" stroke="#333" stroke-width="0.8" />
<line x1="415.61" y1="111.79" x2="421.61" y2="111.79" stroke="#333" stroke-width="0.8" />
<line x1="415.61" y1="119.82" x2="421.61" y2="119.82" stroke="#333" stroke-width="0.8" />
<line x1="421.48" y1="106.69" x2="421.48" y2="114.73" stroke="#333" stroke-width="0.8" />
<line x1="418.48" y1="106.69" x2="424.48" y2="106.69" stroke="#333" stroke-width="0.8" />
<line x1="418.48" y1="114.73" x2="424.48" y2="114.73" stroke="#333" stroke-width="0.8" />
<line x1="424.35" y1="100.44" x2="424.35" y2="108.47" stroke="#333" stroke-width="0.8" />
<line x1="421.35" y1="100.44" x2="427.35" y2="100.44" stroke="#333" stroke-width="0.8" />
<line x1="421.35" y1="108.47" x2="427.35" y2="108.47" stroke="#333" stroke-width="0.8" />
<line x1="427.22" y1="93.07" x2="427.22" y2="101.11" stroke="#333" stroke-width="0.8" />
<line x1="424.22" y1="93.07" x2="430.22" y2="93.07" stroke="#333" stroke-width="0.8" />
<line x1="424.22" y1="101.11" x2="430.22" y2="101.11" stroke="#333" stroke-width="0.8" />
<line x1="430.09" y1="84.83" x2="430.09" y2="92.86" stroke="#333" stroke-width="0.8" />
<line x1="427.09" y1="84.83" x2="433.09" y2="84.83" stroke="#333" stroke-width="0.8" />
<line x1="427.09" y1="92.86" x2="433.09" y2="92.86" stroke="#333" stroke-width="0.8" />
<line x1="432.96" y1="76.08" x2="432.96" y2="84.12" stroke="#333" stroke-width="0.8" />
<line x1="429.96" y1="76.08" x2="435.96" y2="76.08" stroke="#333" stroke-width="0.8" />
<line x1="429.96" y1="84.12" x2="435.96" y2="84.12" stroke="#333" stroke-width="0.8" />
<line x1="435.83" y1="67.34" x2="435.83" y2="75.37" stroke="#333" stroke-width="0.8" />
<line x1="432.83" y1="67.34" x2="438.83" y2="67.34" stroke="#333" stroke-width="0.8" />
<line x1="432.83" y1="75.37" x2="438.83" y2="75.37" stroke="#333" stroke-width="0.8" />
<line x1="438.7" y1="59.09" x2="438.7" y2="67.13" stroke="#333" stroke-width="0.8" />
<line x1="435.7" y1="59.09" x2="441.7" y2="59.09" stroke="#333" stroke-width="0.8" />
<line x1="435.7" y1="67.13" x2="441.7" y2="67.13" stroke="#333" stroke-width="0.8" />
<line x1="441.57" y1="51.73" x2="441.57" y2="59.76" stroke="#333" stroke-width="0.8" />
<line x1="438.57" y1="51.73" x2="444.57" y2="51.73" stroke="#333" stroke-width="0.8" />
<line x1="438.57" y1="59.76" x2="444.57" y2="59.76" stroke="#333" stroke-width="0.8" />
<line x1="444.44" y1="45.47" x2="444.44" y2="53.5" stroke="#333" stroke-width="0.8" />
<line x1="441.44" y1="45.47" x2="447.44" y2="45.47" stroke="#333" stroke-width="0.8" />
<line x1="441.44" y1="53.5" x2="447.44" y2="53.5" stroke="#333" stroke-width="0.8" />
<line x1="447.31" y1="40.37" x2="447.31" y2="48.41" stroke="#333" stroke-width="0.8" />
<line x1="444.31" y1="40.37" x2="450.31" y2="40.37" stroke="#333" stroke-width="0.8" />
<line x1="444.31" y1="48.41" x2="450.31" y2="48.41" stroke="#333" stroke-width="0.8" />
<line x1="450.18" y1="36.36" x2="450.18" y2="44.39" stroke="#333" stroke-width="0.8" />
<line x1="447.18" y1="36.36" x2="453.18" y2="36.36" stroke="#333" stroke-width="0.8" />
<line x1="447.18" y1="44.39" x2="453.18" y2="44.39" stroke="#333" stroke-width="0.8" />
<line x1="453.05" y1="33.29" x2="453.05" y2="41.32" stroke="#333" stroke-width="0.8" />
<line x1="450.05" y1="33.29" x2="456.05" y2="33.29" stroke="#333" stroke-width="0.8" />
<line x1="450.05" y1="41.32" x2="456.05" y2="41.32" stroke="#333" stroke-width="0.8" />
<line x1="455.92" y1="30.98" x2="455.92" y2="39.01" stroke="#333" stroke-width="0.8" />
<line x1="452.92" y1="30.98" x2="458.92" y2="30.98" stroke="#333" stroke-width="0.8" />
<line x1="452.92" y1="39.01" x2="458.92" y2="39.01" stroke="#333" stroke-width="0.8" />
<line x1="458.79" y1="29.27" x2="458.79" y2="37.31" stroke="#333" stroke-width="0.8" />
<line x1="455.79" y1="29.27" x2="461.79" y2="29.27" stroke="#333" stroke-width="0.8" />
<line x1="455.79" y1="37.31" x2="461.79" y2="37.31" stroke="#333" stroke-width="0.8" />
<line x1="461.66" y1="28.03" x2="461.66" y2="36.06" stroke="#333" stroke-width="0.8" />
<line x1="458.66" y1="28.03" x2="464.66" y2="28.03" stroke="#333" stroke-width="0.8" />
<line x1="458.66" y1="36.06" x2="464.66" y2="36.06" stroke="#333" stroke-width="0.8" />
<line x1="464.53" y1="27.13" x2="464.53" y2="35.16" stroke="#333" stroke-width="0.8" />
<line x1="461.53" y1="27.13" x2="467.53" y2="27.13" stroke="#333" stroke-width="0.8" />
<line x1="461.53" y1="35.16" x2="467.53" y2="35.16" stroke="#333" stroke-width="0.8" />
<line x1="467.4" y1="26.48" x2="467.4" y2="34.51" stroke="#333" stroke-width="0.8" />
<line x1="464.4" y1="26.48" x2="470.4" y2="26.48" stroke="#333" stroke-width="0.8" />
<line x1="464.4" y1="34.51" x2="470.4" y2="34.51" stroke="#333" stroke-width="0.8" />
<line x1="470.27" y1="26.02" x2="470.27" y2="34.05" stroke="#333" stroke-width="0.8" />
<line x1="467.27" y1="26.02" x2="473.27" y2="26.02" stroke="#333" stroke-width="0.8" />
<line x1="467.27" y1="34.05" x2="473.27" y2="34.05" stroke="#333" stroke-width="0.8" />
<line x1="473.14" y1="25.69" x2="473.14" y2="33.72" stroke="#333" stroke-width="0.8" />
<line x1="470.14" y1="25.69" x2="476.14" y2="25.69" stroke="#333" stroke-width="0.8" />
<line x1="470.14" y1="33.72" x2="476.14" y2="33.72" stroke="#333" stroke-width="0.8" />
<line x1="476.01" y1="25.45" x2="476.01" y2="33.48" stroke="#333" stroke-width="0.8" />
<line x1="473.01" y1="25.45" x2="479.01" y2="25.45" stroke="#333" stroke-width="0.8" />
<line x1="473.01" y1="33.48" x2="479.01" y2="33.48" stroke="#333" stroke-width="0.8" />
<line x1="478.88" y1="25.28" x2="478.88" y2="33.32" stroke="#333" stroke-width="0.8" />
<line x1="475.88" y1="25.28" x2="481.88" y2="25.28" stroke="#333" stroke-width="0.8" />
<line x1="475.88" y1="33.32" x2="481.88" y2="33.32" stroke="#333" stroke-width="0.8" />
<path d="M398.52 129.7 L401.39 129.05 L404.26 128.15 L407.13 126.91 L410 125.2 L412.87 122.9 L415.74 119.82 L418.61 115.81 L421.48 110.71 L424.35 104.45 L427.22 97.09 L430.09 88.84 L432.96 80.1 L435.83 71.36 L438.7 63.11 L441.57 55.75 L444.44 49.49 L447.31 44.39 L450.18 40.38 L453.05 37.3 L455.92 34.99 L458.79 33.29 L461.66 32.05 L464.53 31.15 L467.4 30.5 L470.27 30.03 L473.14 29.7 L476.01 29.47 L478.88 29.3" fill="none" stroke="#000" stroke-width="0.8"/>
<path d="M398.52 127.5L400.72 129.7L398.52 131.9L396.32 129.7Z" fill="#000"/>
<path d="M401.39 126.85L403.59 129.05L401.39 131.25L399.19 129.05Z" fill="#000"/>
<path d="M404.26 125.95L406.46 128.15L404.26 130.35L402.06 128.15Z" fill="#000"/>
<path d="M407.13 124.71L409.33 126.91L407.13 129.11L404.93 126.91Z" fill="#000"/>
<path d="M410 123L412.2 125.2L410 127.4L407.8 125.2Z" fill="#000"/>
<path d="M412.87 120.7L415.07 122.9L412.87 125.1L410.67 122.9Z" fill="#000"/>
<path d="M415.74 117.62L417.94 119.82L415.74 122.02L413.54 119.82Z" fill="#000"/>
<path d="M418.61 113.61L420.81 115.81L418.61 118.01L416.41 115.81Z" fill="#000"/>
<path d="M421.48 108.51L423.68 110.71L421.48 112.91L419.28 110.71Z" fill="#000"/>
<path d="M424.35 102.25L426.55 104.45L424.35 106.65L422.15 104.45Z" fill="#000"/>
<path d="M427.22 94.89L429.42 97.09L427.22 99.29L425.02 97.09Z" fill="#000"/>
<path d="M430.09 86.64L432.29 88.84L430.09 91.04L427.89 88.84Z" fill="#000"/>
<path d="M432.96 77.9L435.16 80.1L432.96 82.3L430.76 80.1Z" fill="#000"/>
<path d="M435.83 69.16L438.03 71.36L435.83 73.56L433.63 71.36Z" fill="#000"/>
<path d="M438.7 60.91L440.9 63.11L438.7 65.31L436.5 63.11Z" fill="#000"/>
<path d="M441.57 53.55L443.77 55.75L441.57 57.95L439.37 55.75Z" fill="#000"/>
<path d="M444.44 47.29L446.64 49.49L444.44 51.69L442.24 49.49Z" fill="#000"/>
<path d="M447.31 42.19L449.51 44.39L447.31 46.59L445.11 44.39Z" fill="#000"/>
<path d="M450.18 38.18L452.38 40.38L450.18 42.58L447.98 40.38Z" fill="#000"/>
<path d="M453.05 35.1L455.25 37.3L453.05 39.5L450.85 37.3Z" fill="#000"/>
<path d="M455.92 32.79L458.12 34.99L455.92 37.19L453.72 34.99Z" fill="#000"/>
<path d="M458.79 31.09L460.99 33.29L458.79 35.49L456.59 33.29Z" fill="#000"/>
<path d="M461.66 29.85L463.86 32.05L461.66 34.25L459.46 32.05Z" fill="#000"/>
<path d="M464.53 28.95L466.73 31.15L464.53 33.35L462.33 31.15Z" fill="#000"/>
<path d="M467.4 28.3L469.6 30.5L467.4 32.7L465.2 30.5Z" fill="#000"/>
<path d="M470.27 27.83L472.47 30.03L470.27 32.23L468.07 30.03Z" fill="#000"/>
<path d="M473.14 27.5L475.34 29.7L473.14 31.9L470.94 29.7Z" fill="#000"/>
<path d="M476.01 27.27L478.21 29.47L476.01 31.67L473.81 29.47Z" fill="#000"/>
<path d="M478.88 27.1L481.08 29.3L478.88 31.5L476.68 29.3Z" fill="#000"/>
<text x="563.3" y="11.5" font-size="14.3" font-family="Liberation Sans, sans-serif" fill="#111" stroke="#111" stroke-width="0.3">Protein T<tspan font-size="10.5" dy="3.8">m</tspan><tspan dy="-3.8"> (°C)</tspan></text>
<line x1="559.9" y1="16.8" x2="671" y2="16.8" stroke="#222" stroke-width="1.1" />
<line x1="559.5" y1="30.1" x2="572.1" y2="30.1" stroke="#000" stroke-width="1" />
<path d="M565.8 28L567.9 30.1L565.8 32.2L563.7 30.1Z" fill="#000"/>
<text x="578.9" y="35.1" font-size="14" font-family="Liberation Sans, sans-serif" text-anchor="start" fill="#111" stroke="#111" stroke-width="0.3">PvdQ</text>
<text x="616.7" y="35.1" font-size="14" font-family="Liberation Sans, sans-serif" text-anchor="start" fill="#111" stroke="#111" stroke-width="0.3">48.8</text>
<line x1="559.5" y1="48.4" x2="572.1" y2="48.4" stroke="#0000ff" stroke-width="1" />
<circle cx="565.8" cy="48.4" r="2.8" fill="#0000ff"/>
<text x="578.9" y="53.4" font-size="14" font-family="Liberation Sans, sans-serif" text-anchor="start" fill="#111" stroke="#111" stroke-width="0.3">P1</text>
<text x="616.7" y="54.3" font-size="14" font-family="Liberation Sans, sans-serif" text-anchor="start" fill="#111" stroke="#111" stroke-width="0.3">58.0</text>
<line x1="559.5" y1="66.7" x2="572.1" y2="66.7" stroke="#5555ff" stroke-width="1" />
<rect x="563.3" y="64.2" width="5" height="5" fill="#5555ff"/>
<text x="578.9" y="71.7" font-size="14" font-family="Liberation Sans, sans-serif" text-anchor="start" fill="#111" stroke="#111" stroke-width="0.3">P2</text>
<text x="616.7" y="73.5" font-size="14" font-family="Liberation Sans, sans-serif" text-anchor="start" fill="#111" stroke="#111" stroke-width="0.3">60.5</text>
<line x1="559.5" y1="85" x2="572.1" y2="85" stroke="#8c8cff" stroke-width="1" />
<path d="M565.8 82.03L568.55 87.23L563.05 87.23Z" fill="#8c8cff"/>
<text x="578.9" y="90" font-size="14" font-family="Liberation Sans, sans-serif" text-anchor="start" fill="#111" stroke="#111" stroke-width="0.3">P3</text>
<text x="616.7" y="92.7" font-size="14" font-family="Liberation Sans, sans-serif" text-anchor="start" fill="#111" stroke="#111" stroke-width="0.3">62.0</text>
<text transform="translate(14.3 189.4) scale(0.9 1)" font-size="17.5" font-family="Liberation Sans, sans-serif" font-weight="bold">C</text>
<line x1="46.2" y1="202.6" x2="46.2" y2="341.2" stroke="#000" stroke-width="1.5" />
<line x1="41.2" y1="341.2" x2="46.2" y2="341.2" stroke="#000" stroke-width="1.4" />
<text x="39.3" y="345.9" font-size="13" font-family="Liberation Sans, sans-serif" font-weight="bold" text-anchor="end" fill="#000" >0</text>
<line x1="41.2" y1="316.2" x2="46.2" y2="316.2" stroke="#000" stroke-width="1.4" />
<text x="39.3" y="320.9" font-size="13" font-family="Liberation Sans, sans-serif" font-weight="bold" text-anchor="end" fill="#000" >20</text>
<line x1="41.2" y1="291.2" x2="46.2" y2="291.2" stroke="#000" stroke-width="1.4" />
<text x="39.3" y="295.9" font-size="13" font-family="Liberation Sans, sans-serif" font-weight="bold" text-anchor="end" fill="#000" >40</text>
<line x1="41.2" y1="266.2" x2="46.2" y2="266.2" stroke="#000" stroke-width="1.4" />
<text x="39.3" y="270.9" font-size="13" font-family="Liberation Sans, sans-serif" font-weight="bold" text-anchor="end" fill="#000" >60</text>
<line x1="41.2" y1="241.2" x2="46.2" y2="241.2" stroke="#000" stroke-width="1.4" />
<text x="39.3" y="245.9" font-size="13" font-family="Liberation Sans, sans-serif" font-weight="bold" text-anchor="end" fill="#000" >80</text>
<line x1="41.2" y1="216.2" x2="46.2" y2="216.2" stroke="#000" stroke-width="1.4" />
<text x="39.3" y="220.9" font-size="13" font-family="Liberation Sans, sans-serif" font-weight="bold" text-anchor="end" fill="#000" >100</text>
<line x1="45.45" y1="341.2" x2="304.5" y2="341.2" stroke="#000" stroke-width="1.6" />
<rect x="50.8" y="216.2" width="9.1" height="125" fill="#000080"/>
<rect x="64.87" y="216.2" width="9.1" height="125" fill="#0000ff"/>
<rect x="78.94" y="216.2" width="9.1" height="125" fill="#5555ff"/>
<rect x="93.01" y="217.45" width="9.1" height="123.75" fill="#8c8cff"/>
<line x1="97.56" y1="217.45" x2="97.56" y2="214.95" stroke="#a5a5ff" stroke-width="1" />
<line x1="95.26" y1="214.95" x2="99.86" y2="214.95" stroke="#a5a5ff" stroke-width="1.1" />
<line x1="76.46" y1="341.2" x2="76.46" y2="346.2" stroke="#000" stroke-width="1.5" />
<text x="76.46" y="359.5" font-size="13" font-family="Liberation Sans, sans-serif" font-weight="bold" text-anchor="middle" fill="#000" >0</text>
<rect x="116.4" y="262.45" width="9.1" height="78.75" fill="#000080"/>
<line x1="120.95" y1="262.45" x2="120.95" y2="253.45" stroke="#3a3a9a" stroke-width="1" />
<line x1="118.65" y1="253.45" x2="123.25" y2="253.45" stroke="#3a3a9a" stroke-width="1.1" />
<rect x="130.47" y="253.7" width="9.1" height="87.5" fill="#0000ff"/>
<line x1="135.02" y1="253.7" x2="135.02" y2="249.2" stroke="#3333ff" stroke-width="1" />
<line x1="132.72" y1="249.2" x2="137.32" y2="249.2" stroke="#3333ff" stroke-width="1.1" />
<rect x="144.54" y="258.07" width="9.1" height="83.12" fill="#5555ff"/>
<line x1="149.09" y1="258.07" x2="149.09" y2="252.45" stroke="#7777ff" stroke-width="1" />
<line x1="146.79" y1="252.45" x2="151.39" y2="252.45" stroke="#7777ff" stroke-width="1.1" />
<rect x="158.61" y="234.32" width="9.1" height="106.88" fill="#8c8cff"/>
<line x1="163.16" y1="234.32" x2="163.16" y2="230.2" stroke="#a5a5ff" stroke-width="1" />
<line x1="160.86" y1="230.2" x2="165.46" y2="230.2" stroke="#a5a5ff" stroke-width="1.1" />
<line x1="142.06" y1="341.2" x2="142.06" y2="346.2" stroke="#000" stroke-width="1.5" />
<text x="142.06" y="359.5" font-size="13" font-family="Liberation Sans, sans-serif" font-weight="bold" text-anchor="middle" fill="#000" >5</text>
<rect x="182" y="289.32" width="9.1" height="51.88" fill="#000080"/>
<line x1="186.55" y1="289.32" x2="186.55" y2="284.57" stroke="#3a3a9a" stroke-width="1" />
<line x1="184.25" y1="284.57" x2="188.85" y2="284.57" stroke="#3a3a9a" stroke-width="1.1" />
<rect x="196.07" y="283.07" width="9.1" height="58.12" fill="#0000ff"/>
<line x1="200.62" y1="283.07" x2="200.62" y2="278.7" stroke="#3333ff" stroke-width="1" />
<line x1="198.32" y1="278.7" x2="202.92" y2="278.7" stroke="#3333ff" stroke-width="1.1" />
<rect x="210.14" y="288.07" width="9.1" height="53.12" fill="#5555ff"/>
<line x1="214.69" y1="288.07" x2="214.69" y2="281.95" stroke="#7777ff" stroke-width="1" />
<line x1="212.39" y1="281.95" x2="216.99" y2="281.95" stroke="#7777ff" stroke-width="1.1" />
<rect x="224.21" y="233.7" width="9.1" height="107.5" fill="#8c8cff"/>
<line x1="228.76" y1="233.7" x2="228.76" y2="221.32" stroke="#a5a5ff" stroke-width="1" />
<line x1="226.46" y1="221.32" x2="231.06" y2="221.32" stroke="#a5a5ff" stroke-width="1.1" />
<line x1="207.66" y1="341.2" x2="207.66" y2="346.2" stroke="#000" stroke-width="1.5" />
<text x="207.66" y="359.5" font-size="13" font-family="Liberation Sans, sans-serif" font-weight="bold" text-anchor="middle" fill="#000" >10</text>
<rect x="247.6" y="306.2" width="9.1" height="35" fill="#000080"/>
<line x1="252.15" y1="306.2" x2="252.15" y2="303.95" stroke="#3a3a9a" stroke-width="1" />
<line x1="249.85" y1="303.95" x2="254.45" y2="303.95" stroke="#3a3a9a" stroke-width="1.1" />
<rect x="261.67" y="298.7" width="9.1" height="42.5" fill="#0000ff"/>
<line x1="266.22" y1="298.7" x2="266.22" y2="295.7" stroke="#3333ff" stroke-width="1" />
<line x1="263.92" y1="295.7" x2="268.52" y2="295.7" stroke="#3333ff" stroke-width="1.1" />
<rect x="275.74" y="299.95" width="9.1" height="41.25" fill="#5555ff"/>
<line x1="280.29" y1="299.95" x2="280.29" y2="296.32" stroke="#7777ff" stroke-width="1" />
<line x1="277.99" y1="296.32" x2="282.59" y2="296.32" stroke="#7777ff" stroke-width="1.1" />
<rect x="289.81" y="219.95" width="9.1" height="121.25" fill="#8c8cff"/>
<line x1="294.36" y1="219.95" x2="294.36" y2="213.45" stroke="#a5a5ff" stroke-width="1" />
<line x1="292.06" y1="213.45" x2="296.66" y2="213.45" stroke="#a5a5ff" stroke-width="1.1" />
<line x1="273.25" y1="341.2" x2="273.25" y2="346.2" stroke="#000" stroke-width="1.5" />
<text x="273.25" y="359.5" font-size="13" font-family="Liberation Sans, sans-serif" font-weight="bold" text-anchor="middle" fill="#000" >15</text>
<text x="174.5" y="384.7" font-size="13" font-family="Liberation Sans, sans-serif" font-weight="bold" text-anchor="middle" fill="#000" >% Ethanol</text>
<text transform="translate(10.8 267.8) rotate(-90)" font-size="13.3" font-family="Liberation Sans, sans-serif" font-weight="bold" text-anchor="middle">Remaining activity (%)</text>
<text transform="translate(359.4 189.4) scale(1 1)" font-size="18" font-family="Liberation Sans, sans-serif" font-weight="bold">D</text>
<line x1="387.3" y1="202.6" x2="387.3" y2="341.2" stroke="#000" stroke-width="1.5" />
<line x1="382.3" y1="341.2" x2="387.3" y2="341.2" stroke="#000" stroke-width="1.4" />
<text x="380.4" y="345.9" font-size="13" font-family="Liberation Sans, sans-serif" font-weight="bold" text-anchor="end" fill="#000" >0</text>
<line x1="382.3" y1="316.2" x2="387.3" y2="316.2" stroke="#000" stroke-width="1.4" />
<text x="380.4" y="320.9" font-size="13" font-family="Liberation Sans, sans-serif" font-weight="bold" text-anchor="end" fill="#000" >20</text>
<line x1="382.3" y1="291.2" x2="387.3" y2="291.2" stroke="#000" stroke-width="1.4" />
<text x="380.4" y="295.9" font-size="13" font-family="Liberation Sans, sans-serif" font-weight="bold" text-anchor="end" fill="#000" >40</text>
<line x1="382.3" y1="266.2" x2="387.3" y2="266.2" stroke="#000" stroke-width="1.4" />
<text x="380.4" y="270.9" font-size="13" font-family="Liberation Sans, sans-serif" font-weight="bold" text-anchor="end" fill="#000" >60</text>
<line x1="382.3" y1="241.2" x2="387.3" y2="241.2" stroke="#000" stroke-width="1.4" />
<text x="380.4" y="245.9" font-size="13" font-family="Liberation Sans, sans-serif" font-weight="bold" text-anchor="end" fill="#000" >80</text>
<line x1="382.3" y1="216.2" x2="387.3" y2="216.2" stroke="#000" stroke-width="1.4" />
<text x="380.4" y="220.9" font-size="13" font-family="Liberation Sans, sans-serif" font-weight="bold" text-anchor="end" fill="#000" >100</text>
<line x1="386.55" y1="341.2" x2="645.6" y2="341.2" stroke="#000" stroke-width="1.6" />
<rect x="392.5" y="216.2" width="9.1" height="125" fill="#000080"/>
<rect x="406.57" y="216.2" width="9.1" height="125" fill="#0000ff"/>
<rect x="420.64" y="216.2" width="9.1" height="125" fill="#5555ff"/>
<rect x="434.71" y="216.2" width="9.1" height="125" fill="#8c8cff"/>
<line x1="418.15" y1="341.2" x2="418.15" y2="346.2" stroke="#000" stroke-width="1.5" />
<text x="418.15" y="359.5" font-size="13" font-family="Liberation Sans, sans-serif" font-weight="bold" text-anchor="middle" fill="#000" >0</text>
<rect x="458.1" y="268.95" width="9.1" height="72.25" fill="#000080"/>
<line x1="462.65" y1="268.95" x2="462.65" y2="261.57" stroke="#3a3a9a" stroke-width="1" />
<line x1="460.35" y1="261.57" x2="464.95" y2="261.57" stroke="#3a3a9a" stroke-width="1.1" />
<rect x="472.17" y="256.45" width="9.1" height="84.75" fill="#0000ff"/>
<line x1="476.72" y1="256.45" x2="476.72" y2="251.45" stroke="#3333ff" stroke-width="1" />
<line x1="474.42" y1="251.45" x2="479.02" y2="251.45" stroke="#3333ff" stroke-width="1.1" />
<rect x="486.24" y="273.07" width="9.1" height="68.12" fill="#5555ff"/>
<line x1="490.79" y1="273.07" x2="490.79" y2="269.82" stroke="#7777ff" stroke-width="1" />
<line x1="488.49" y1="269.82" x2="493.09" y2="269.82" stroke="#7777ff" stroke-width="1.1" />
<rect x="500.31" y="278.45" width="9.1" height="62.75" fill="#8c8cff"/>
<line x1="504.86" y1="278.45" x2="504.86" y2="273.45" stroke="#a5a5ff" stroke-width="1" />
<line x1="502.56" y1="273.45" x2="507.16" y2="273.45" stroke="#a5a5ff" stroke-width="1.1" />
<line x1="483.75" y1="341.2" x2="483.75" y2="346.2" stroke="#000" stroke-width="1.5" />
<text x="483.75" y="359.5" font-size="13" font-family="Liberation Sans, sans-serif" font-weight="bold" text-anchor="middle" fill="#000" >0.5</text>
<rect x="523.7" y="298.7" width="9.1" height="42.5" fill="#000080"/>
<line x1="528.25" y1="298.7" x2="528.25" y2="294.82" stroke="#3a3a9a" stroke-width="1" />
<line x1="525.95" y1="294.82" x2="530.55" y2="294.82" stroke="#3a3a9a" stroke-width="1.1" />
<rect x="537.77" y="281.95" width="9.1" height="59.25" fill="#0000ff"/>
<line x1="542.32" y1="281.95" x2="542.32" y2="277.32" stroke="#3333ff" stroke-width="1" />
<line x1="540.02" y1="277.32" x2="544.62" y2="277.32" stroke="#3333ff" stroke-width="1.1" />
<rect x="551.84" y="301.95" width="9.1" height="39.25" fill="#5555ff"/>
<line x1="556.39" y1="301.95" x2="556.39" y2="299.7" stroke="#7777ff" stroke-width="1" />
<line x1="554.09" y1="299.7" x2="558.69" y2="299.7" stroke="#7777ff" stroke-width="1.1" />
<rect x="565.91" y="307.2" width="9.1" height="34" fill="#8c8cff"/>
<line x1="570.46" y1="307.2" x2="570.46" y2="304.95" stroke="#a5a5ff" stroke-width="1" />
<line x1="568.16" y1="304.95" x2="572.76" y2="304.95" stroke="#a5a5ff" stroke-width="1.1" />
<line x1="549.36" y1="341.2" x2="549.36" y2="346.2" stroke="#000" stroke-width="1.5" />
<text x="549.36" y="359.5" font-size="13" font-family="Liberation Sans, sans-serif" font-weight="bold" text-anchor="middle" fill="#000" >1</text>
<rect x="589.3" y="323.7" width="9.1" height="17.5" fill="#000080"/>
<line x1="593.85" y1="323.7" x2="593.85" y2="321.32" stroke="#3a3a9a" stroke-width="1" />
<line x1="591.55" y1="321.32" x2="596.15" y2="321.32" stroke="#3a3a9a" stroke-width="1.1" />
<rect x="603.37" y="304.95" width="9.1" height="36.25" fill="#0000ff"/>
<line x1="607.92" y1="304.95" x2="607.92" y2="302.07" stroke="#3333ff" stroke-width="1" />
<line x1="605.62" y1="302.07" x2="610.22" y2="302.07" stroke="#3333ff" stroke-width="1.1" />
<rect x="617.44" y="316.95" width="9.1" height="24.25" fill="#5555ff"/>
<line x1="621.99" y1="316.95" x2="621.99" y2="313.82" stroke="#7777ff" stroke-width="1" />
<line x1="619.69" y1="313.82" x2="624.29" y2="313.82" stroke="#7777ff" stroke-width="1.1" />
<rect x="631.51" y="321.32" width="9.1" height="19.88" fill="#8c8cff"/>
<line x1="636.06" y1="321.32" x2="636.06" y2="316.7" stroke="#a5a5ff" stroke-width="1" />
<line x1="633.76" y1="316.7" x2="638.36" y2="316.7" stroke="#a5a5ff" stroke-width="1.1" />
<line x1="614.95" y1="341.2" x2="614.95" y2="346.2" stroke="#000" stroke-width="1.5" />
<text x="614.95" y="359.5" font-size="13" font-family="Liberation Sans, sans-serif" font-weight="bold" text-anchor="middle" fill="#000" >2</text>
<text x="516.2" y="384.7" font-size="13" font-family="Liberation Sans, sans-serif" font-weight="bold" text-anchor="middle" fill="#000" >% Ethyl Acetate</text>
<text transform="translate(351.3 267.8) rotate(-90)" font-size="13.3" font-family="Liberation Sans, sans-serif" font-weight="bold" text-anchor="middle">Remaining activity (%)</text>
<text transform="translate(14.6 379.6) scale(0.85 1)" font-size="17.5" font-family="Liberation Sans, sans-serif" font-weight="bold">E</text>
<line x1="46.2" y1="396.5" x2="46.2" y2="533.7" stroke="#000" stroke-width="1.5" />
<line x1="41.2" y1="533.7" x2="46.2" y2="533.7" stroke="#000" stroke-width="1.4" />
<text x="39.3" y="538.4" font-size="13" font-family="Liberation Sans, sans-serif" font-weight="bold" text-anchor="end" fill="#000" >0</text>
<line x1="41.2" y1="508.86" x2="46.2" y2="508.86" stroke="#000" stroke-width="1.4" />
<text x="39.3" y="513.56" font-size="13" font-family="Liberation Sans, sans-serif" font-weight="bold" text-anchor="end" fill="#000" >20</text>
<line x1="41.2" y1="484.02" x2="46.2" y2="484.02" stroke="#000" stroke-width="1.4" />
<text x="39.3" y="488.72" font-size="13" font-family="Liberation Sans, sans-serif" font-weight="bold" text-anchor="end" fill="#000" >40</text>
<line x1="41.2" y1="459.18" x2="46.2" y2="459.18" stroke="#000" stroke-width="1.4" />
<text x="39.3" y="463.88" font-size="13" font-family="Liberation Sans, sans-serif" font-weight="bold" text-anchor="end" fill="#000" >60</text>
<line x1="41.2" y1="434.34" x2="46.2" y2="434.34" stroke="#000" stroke-width="1.4" />
<text x="39.3" y="439.04" font-size="13" font-family="Liberation Sans, sans-serif" font-weight="bold" text-anchor="end" fill="#000" >80</text>
<line x1="41.2" y1="409.5" x2="46.2" y2="409.5" stroke="#000" stroke-width="1.4" />
<text x="39.3" y="414.2" font-size="13" font-family="Liberation Sans, sans-serif" font-weight="bold" text-anchor="end" fill="#000" >100</text>
<line x1="45.45" y1="533.7" x2="518" y2="533.7" stroke="#000" stroke-width="1.6" />
<rect x="53" y="424.9" width="13.4" height="108.8" fill="#000080"/>
<line x1="59.7" y1="424.9" x2="59.7" y2="402.17" stroke="#3a3a9a" stroke-width="1" />
<line x1="56.3" y1="402.17" x2="63.1" y2="402.17" stroke="#3a3a9a" stroke-width="1.1" />
<rect x="73.4" y="445.52" width="13.4" height="88.18" fill="#0000ff"/>
<line x1="80.1" y1="445.52" x2="80.1" y2="401.68" stroke="#3333ff" stroke-width="1" />
<line x1="76.7" y1="401.68" x2="83.5" y2="401.68" stroke="#3333ff" stroke-width="1.1" />
<rect x="93.8" y="432.73" width="13.4" height="100.97" fill="#5555ff"/>
<line x1="100.5" y1="432.73" x2="100.5" y2="400.43" stroke="#7777ff" stroke-width="1" />
<line x1="97.1" y1="400.43" x2="103.9" y2="400.43" stroke="#7777ff" stroke-width="1.1" />
<rect x="114.2" y="444.52" width="13.4" height="89.18" fill="#8c8cff"/>
<line x1="120.9" y1="444.52" x2="120.9" y2="405.15" stroke="#a5a5ff" stroke-width="1" />
<line x1="117.5" y1="405.15" x2="124.3" y2="405.15" stroke="#a5a5ff" stroke-width="1.1" />
<line x1="90.3" y1="533.7" x2="90.3" y2="538.4" stroke="#000" stroke-width="1.5" />
<text transform="translate(91.3 547) rotate(-45)" font-size="13" font-family="Liberation Sans, sans-serif" font-weight="bold" text-anchor="end" dominant-baseline="central">1</text>
<rect x="148.6" y="454.58" width="13.4" height="79.12" fill="#000080"/>
<line x1="155.3" y1="454.58" x2="155.3" y2="412.85" stroke="#3a3a9a" stroke-width="1" />
<line x1="151.9" y1="412.85" x2="158.7" y2="412.85" stroke="#3a3a9a" stroke-width="1.1" />
<rect x="169" y="427.38" width="13.4" height="106.32" fill="#0000ff"/>
<line x1="175.7" y1="427.38" x2="175.7" y2="410.37" stroke="#3333ff" stroke-width="1" />
<line x1="172.3" y1="410.37" x2="179.1" y2="410.37" stroke="#3333ff" stroke-width="1.1" />
<rect x="189.4" y="458.81" width="13.4" height="74.89" fill="#5555ff"/>
<line x1="196.1" y1="458.81" x2="196.1" y2="435.71" stroke="#7777ff" stroke-width="1" />
<line x1="192.7" y1="435.71" x2="199.5" y2="435.71" stroke="#7777ff" stroke-width="1.1" />
<rect x="209.8" y="427.76" width="13.4" height="105.94" fill="#8c8cff"/>
<line x1="216.5" y1="427.76" x2="216.5" y2="402.05" stroke="#a5a5ff" stroke-width="1" />
<line x1="213.1" y1="402.05" x2="219.9" y2="402.05" stroke="#a5a5ff" stroke-width="1.1" />
<line x1="185.9" y1="533.7" x2="185.9" y2="538.4" stroke="#000" stroke-width="1.5" />
<text transform="translate(186.9 547) rotate(-45)" font-size="13" font-family="Liberation Sans, sans-serif" font-weight="bold" text-anchor="end" dominant-baseline="central">2</text>
<rect x="244.2" y="502.28" width="13.4" height="31.42" fill="#000080"/>
<line x1="250.9" y1="502.28" x2="250.9" y2="497.43" stroke="#3a3a9a" stroke-width="1" />
<line x1="247.5" y1="497.43" x2="254.3" y2="497.43" stroke="#3a3a9a" stroke-width="1.1" />
<rect x="264.6" y="441.42" width="13.4" height="92.28" fill="#0000ff"/>
<line x1="271.3" y1="441.42" x2="271.3" y2="405.15" stroke="#3333ff" stroke-width="1" />
<line x1="267.9" y1="405.15" x2="274.7" y2="405.15" stroke="#3333ff" stroke-width="1.1" />
<rect x="285" y="452.97" width="13.4" height="80.73" fill="#5555ff"/>
<line x1="291.7" y1="452.97" x2="291.7" y2="408.75" stroke="#7777ff" stroke-width="1" />
<line x1="288.3" y1="408.75" x2="295.1" y2="408.75" stroke="#7777ff" stroke-width="1.1" />
<rect x="305.4" y="449.24" width="13.4" height="84.46" fill="#8c8cff"/>
<line x1="312.1" y1="449.24" x2="312.1" y2="427.76" stroke="#a5a5ff" stroke-width="1" />
<line x1="308.7" y1="427.76" x2="315.5" y2="427.76" stroke="#a5a5ff" stroke-width="1.1" />
<line x1="281.5" y1="533.7" x2="281.5" y2="538.4" stroke="#000" stroke-width="1.5" />
<text transform="translate(282.5 547) rotate(-45)" font-size="13" font-family="Liberation Sans, sans-serif" font-weight="bold" text-anchor="end" dominant-baseline="central">4</text>
<rect x="339.8" y="520.78" width="13.4" height="12.92" fill="#000080"/>
<line x1="346.5" y1="520.78" x2="346.5" y2="516.56" stroke="#3a3a9a" stroke-width="1" />
<line x1="343.1" y1="516.56" x2="349.9" y2="516.56" stroke="#3a3a9a" stroke-width="1.1" />
<rect x="360.2" y="447.01" width="13.4" height="86.69" fill="#0000ff"/>
<line x1="366.9" y1="447.01" x2="366.9" y2="419.56" stroke="#3333ff" stroke-width="1" />
<line x1="363.5" y1="419.56" x2="370.3" y2="419.56" stroke="#3333ff" stroke-width="1.1" />
<rect x="380.6" y="450.61" width="13.4" height="83.09" fill="#5555ff"/>
<line x1="387.3" y1="450.61" x2="387.3" y2="421.3" stroke="#7777ff" stroke-width="1" />
<line x1="383.9" y1="421.3" x2="390.7" y2="421.3" stroke="#7777ff" stroke-width="1.1" />
<rect x="401" y="446.01" width="13.4" height="87.69" fill="#8c8cff"/>
<line x1="407.7" y1="446.01" x2="407.7" y2="424.53" stroke="#a5a5ff" stroke-width="1" />
<line x1="404.3" y1="424.53" x2="411.1" y2="424.53" stroke="#a5a5ff" stroke-width="1.1" />
<line x1="377.1" y1="533.7" x2="377.1" y2="538.4" stroke="#000" stroke-width="1.5" />
<text transform="translate(378.1 547) rotate(-45)" font-size="13" font-family="Liberation Sans, sans-serif" font-weight="bold" text-anchor="end" dominant-baseline="central">7</text>
<rect x="435.4" y="532.21" width="13.4" height="1.49" fill="#000080"/>
<line x1="442.1" y1="532.21" x2="442.1" y2="526.62" stroke="#3a3a9a" stroke-width="1" />
<line x1="438.7" y1="526.62" x2="445.5" y2="526.62" stroke="#3a3a9a" stroke-width="1.1" />
<rect x="455.8" y="458.43" width="13.4" height="75.27" fill="#0000ff"/>
<line x1="462.5" y1="458.43" x2="462.5" y2="428.88" stroke="#3333ff" stroke-width="1" />
<line x1="459.1" y1="428.88" x2="465.9" y2="428.88" stroke="#3333ff" stroke-width="1.1" />
<rect x="476.2" y="479.67" width="13.4" height="54.03" fill="#5555ff"/>
<line x1="482.9" y1="479.67" x2="482.9" y2="449.99" stroke="#7777ff" stroke-width="1" />
<line x1="479.5" y1="449.99" x2="486.3" y2="449.99" stroke="#7777ff" stroke-width="1.1" />
<rect x="496.6" y="489.73" width="13.4" height="43.97" fill="#8c8cff"/>
<line x1="503.3" y1="489.73" x2="503.3" y2="483.27" stroke="#a5a5ff" stroke-width="1" />
<line x1="499.9" y1="483.27" x2="506.7" y2="483.27" stroke="#a5a5ff" stroke-width="1.1" />
<line x1="472.7" y1="533.7" x2="472.7" y2="538.4" stroke="#000" stroke-width="1.5" />
<text transform="translate(473.7 547) rotate(-45)" font-size="13" font-family="Liberation Sans, sans-serif" font-weight="bold" text-anchor="end" dominant-baseline="central">21</text>
<text x="281.4" y="575" font-size="13" font-family="Liberation Sans, sans-serif" font-weight="bold" text-anchor="middle" fill="#000" >Days</text>
<text transform="translate(11.2 462.3) rotate(-90)" font-size="13" font-family="Liberation Sans, sans-serif" font-weight="bold" text-anchor="middle">Remaining activity (%)</text>
<rect x="531.1" y="415.2" width="11" height="10.6" fill="#000080"/>
<text x="549.4" y="425.6" font-size="13" font-family="Liberation Sans, sans-serif" text-anchor="start" fill="#111" >PvdQ</text>
<rect x="531.1" y="435.2" width="11" height="10.6" fill="#0000ff"/>
<text x="549.4" y="445.6" font-size="13" font-family="Liberation Sans, sans-serif" text-anchor="start" fill="#111" >P1</text>
<rect x="531.1" y="455.2" width="11" height="10.6" fill="#5555ff"/>
<text x="549.4" y="465.6" font-size="13" font-family="Liberation Sans, sans-serif" text-anchor="start" fill="#111" >P2</text>
<rect x="531.1" y="475.2" width="11" height="10.6" fill="#8c8cff"/>
<text x="549.4" y="485.6" font-size="13" font-family="Liberation Sans, sans-serif" text-anchor="start" fill="#111" >P3</text>
</svg></body></html>
